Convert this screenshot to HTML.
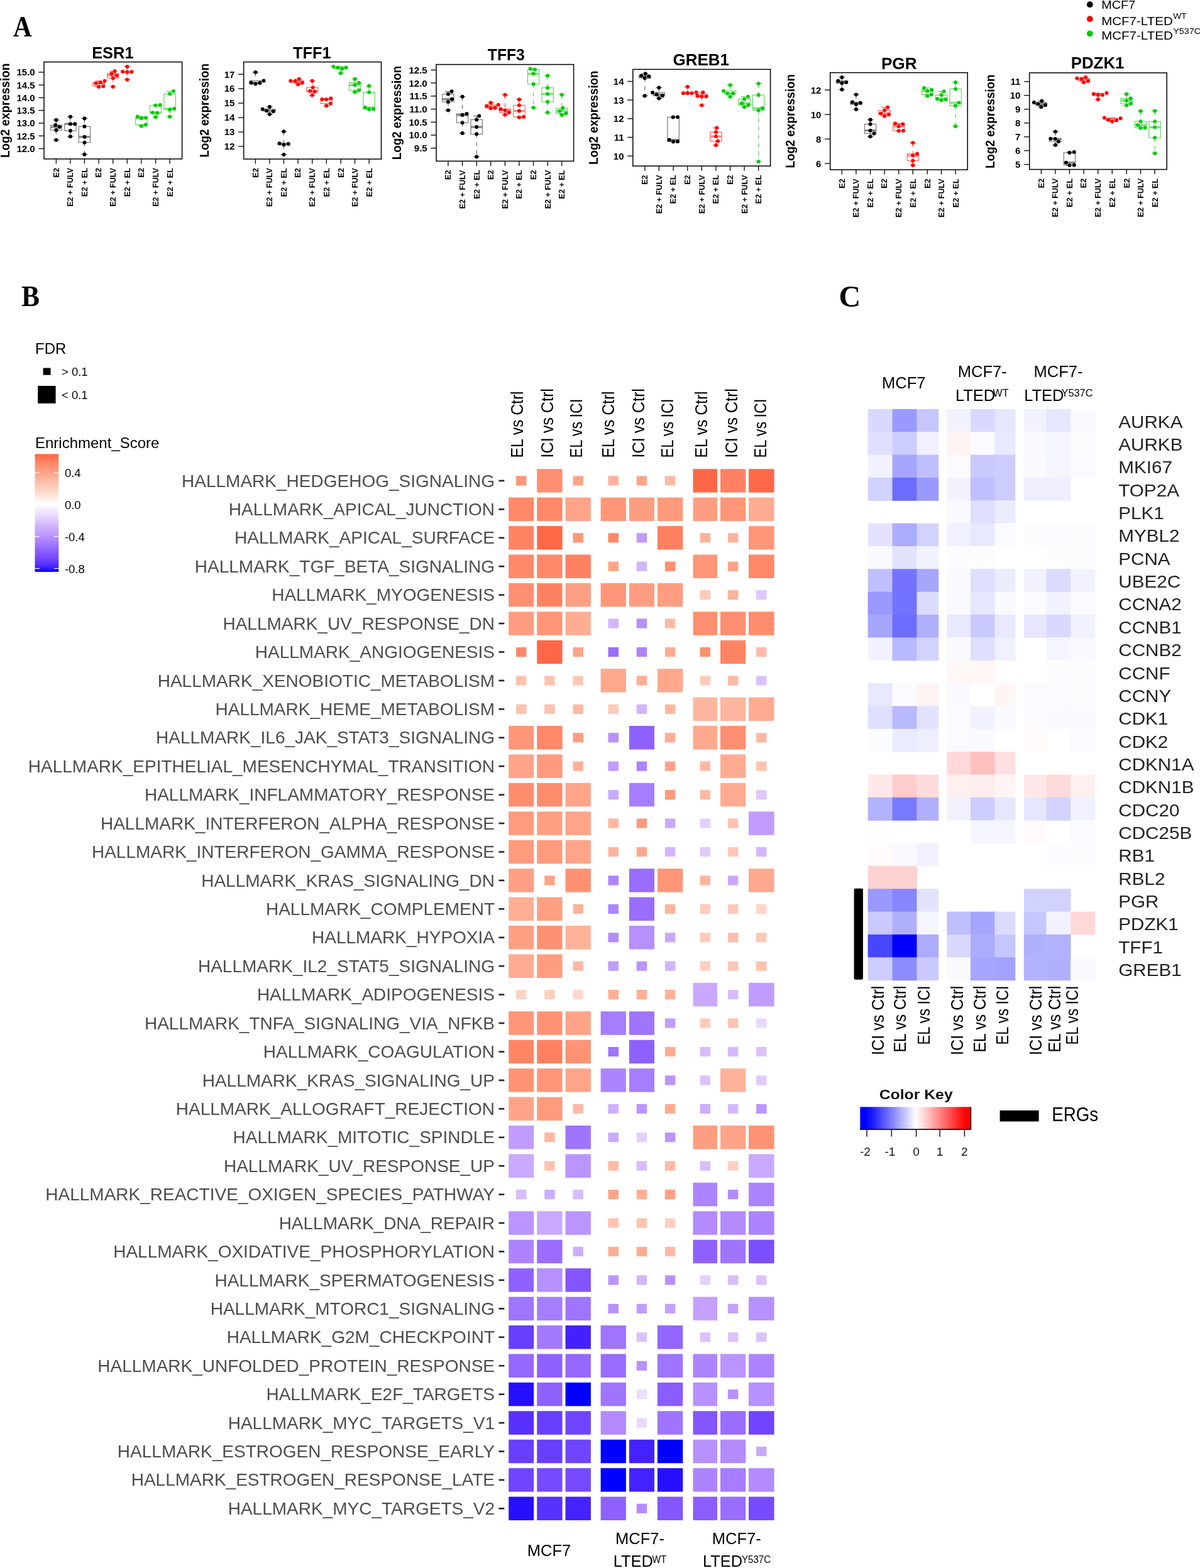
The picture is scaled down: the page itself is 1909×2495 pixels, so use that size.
<!DOCTYPE html>
<html><head><meta charset="utf-8"><title>Figure</title>
<style>html,body{margin:0;padding:0;background:#fff;}svg{display:block;}</style></head>
<body>
<svg width="1909" height="2495" viewBox="0 0 1909 2495" font-family="'Liberation Sans', Arial, sans-serif">
<rect width="1909" height="2495" fill="#fff"/>
<text x="21" y="57.6" font-size="46" font-family="'Liberation Serif', 'Times New Roman', serif" font-weight="bold" textLength="29.6" lengthAdjust="spacingAndGlyphs">A</text>
<text x="34" y="487.2" font-size="46.5" font-family="'Liberation Serif', 'Times New Roman', serif" font-weight="bold" textLength="29" lengthAdjust="spacingAndGlyphs">B</text>
<text x="1334.5" y="487.6" font-size="48" font-family="'Liberation Serif', 'Times New Roman', serif" font-weight="bold">C</text>
<circle cx="1733.8" cy="7.2" r="4.9" fill="#000"/>
<circle cx="1733.8" cy="30.2" r="4.9" fill="#ff0000"/>
<circle cx="1733.8" cy="53.5" r="4.9" fill="#00cd00"/>
<text x="1752.2" y="14.3" font-size="18.5" textLength="54" lengthAdjust="spacingAndGlyphs">MCF7</text>
<text x="1752.2" y="39.8" font-size="18.5" textLength="113.5" lengthAdjust="spacingAndGlyphs">MCF7-LTED</text>
<text x="1866.2" y="29.9" font-size="12.5" textLength="21.5" lengthAdjust="spacingAndGlyphs">WT</text>
<text x="1752.2" y="62.8" font-size="18.5" textLength="113.5" lengthAdjust="spacingAndGlyphs">MCF7-LTED</text>
<text x="1866.2" y="53.5" font-size="12.5" textLength="44" lengthAdjust="spacingAndGlyphs">Y537C</text>
<text x="179.4" y="93.2" font-size="25.5" font-weight="bold" text-anchor="middle" textLength="66.5" lengthAdjust="spacingAndGlyphs">ESR1</text>
<text transform="translate(14.6 251) rotate(-90)" font-size="19.5" font-weight="bold" textLength="150.3" lengthAdjust="spacingAndGlyphs">Log2 expression</text>
<line x1="61.4" y1="236.5" x2="70" y2="236.5" stroke="#000" stroke-width="1.3"/>
<text x="55.7" y="241.9" font-size="15" font-weight="bold" text-anchor="end">12.0</text>
<line x1="61.4" y1="216.23" x2="70" y2="216.23" stroke="#000" stroke-width="1.3"/>
<text x="55.7" y="221.63" font-size="15" font-weight="bold" text-anchor="end">12.5</text>
<line x1="61.4" y1="195.97" x2="70" y2="195.97" stroke="#000" stroke-width="1.3"/>
<text x="55.7" y="201.37" font-size="15" font-weight="bold" text-anchor="end">13.0</text>
<line x1="61.4" y1="175.7" x2="70" y2="175.7" stroke="#000" stroke-width="1.3"/>
<text x="55.7" y="181.1" font-size="15" font-weight="bold" text-anchor="end">13.5</text>
<line x1="61.4" y1="155.43" x2="70" y2="155.43" stroke="#000" stroke-width="1.3"/>
<text x="55.7" y="160.83" font-size="15" font-weight="bold" text-anchor="end">14.0</text>
<line x1="61.4" y1="135.17" x2="70" y2="135.17" stroke="#000" stroke-width="1.3"/>
<text x="55.7" y="140.57" font-size="15" font-weight="bold" text-anchor="end">14.5</text>
<line x1="61.4" y1="114.9" x2="70" y2="114.9" stroke="#000" stroke-width="1.3"/>
<text x="55.7" y="120.3" font-size="15" font-weight="bold" text-anchor="end">15.0</text>
<line x1="89.38" y1="252.9" x2="89.38" y2="260.4" stroke="#000" stroke-width="1.3"/>
<text transform="translate(93.78 267.1) rotate(-90)" font-size="12.6" font-weight="bold" text-anchor="end">E2</text>
<line x1="89.38" y1="190.94" x2="89.38" y2="199.06" stroke="#6e6e6e" stroke-width="1.2" stroke-dasharray="6.5 6.5"/>
<line x1="89.38" y1="207.05" x2="89.38" y2="222.64" stroke="#6e6e6e" stroke-width="1.2" stroke-dasharray="6.5 6.5"/>
<line x1="84.18" y1="190.94" x2="94.58" y2="190.94" stroke="#6e6e6e" stroke-width="1.2"/>
<line x1="84.18" y1="222.64" x2="94.58" y2="222.64" stroke="#6e6e6e" stroke-width="1.2"/>
<rect x="80.18" y="199.06" width="18.4" height="7.99" fill="none" stroke="#6e6e6e" stroke-width="1.1"/>
<line x1="80.18" y1="202.08" x2="98.58" y2="202.08" stroke="#8a8a8a" stroke-width="3.4"/>
<circle cx="89.38" cy="190.94" r="3" fill="#000000"/>
<circle cx="88.33" cy="199.06" r="3" fill="#000000"/>
<circle cx="94.62" cy="202.08" r="3" fill="#000000"/>
<circle cx="89.38" cy="207.05" r="3" fill="#000000"/>
<circle cx="89.38" cy="222.64" r="3" fill="#000000"/>
<line x1="111.91" y1="252.9" x2="111.91" y2="260.4" stroke="#000" stroke-width="1.3"/>
<text transform="translate(116.31 267.1) rotate(-90)" font-size="12.6" font-weight="bold" text-anchor="end">E2 + FULV</text>
<line x1="111.91" y1="185.84" x2="111.91" y2="197.23" stroke="#6e6e6e" stroke-width="1.2" stroke-dasharray="6.5 6.5"/>
<line x1="111.91" y1="207.97" x2="111.91" y2="217.14" stroke="#6e6e6e" stroke-width="1.2" stroke-dasharray="6.5 6.5"/>
<line x1="106.71" y1="185.84" x2="117.11" y2="185.84" stroke="#6e6e6e" stroke-width="1.2"/>
<line x1="106.71" y1="217.14" x2="117.11" y2="217.14" stroke="#6e6e6e" stroke-width="1.2"/>
<rect x="102.71" y="197.23" width="18.4" height="10.74" fill="none" stroke="#6e6e6e" stroke-width="1.1"/>
<line x1="102.71" y1="197.23" x2="121.11" y2="197.23" stroke="#8a8a8a" stroke-width="3.4"/>
<circle cx="111.91" cy="185.84" r="3" fill="#000000"/>
<circle cx="111.91" cy="197.23" r="3" fill="#000000"/>
<circle cx="119.11" cy="197.23" r="3" fill="#000000"/>
<circle cx="111.91" cy="207.97" r="3" fill="#000000"/>
<circle cx="111.91" cy="217.14" r="3" fill="#000000"/>
<line x1="134.43" y1="252.9" x2="134.43" y2="260.4" stroke="#000" stroke-width="1.3"/>
<text transform="translate(138.83 267.1) rotate(-90)" font-size="12.6" font-weight="bold" text-anchor="end">E2 + EL</text>
<line x1="134.43" y1="188.46" x2="134.43" y2="201.29" stroke="#6e6e6e" stroke-width="1.2" stroke-dasharray="6.5 6.5"/>
<line x1="134.43" y1="226.7" x2="134.43" y2="245.69" stroke="#6e6e6e" stroke-width="1.2" stroke-dasharray="6.5 6.5"/>
<line x1="129.23" y1="188.46" x2="139.63" y2="188.46" stroke="#6e6e6e" stroke-width="1.2"/>
<line x1="129.23" y1="245.69" x2="139.63" y2="245.69" stroke="#6e6e6e" stroke-width="1.2"/>
<rect x="125.23" y="201.29" width="18.4" height="25.41" fill="none" stroke="#6e6e6e" stroke-width="1.1"/>
<line x1="125.23" y1="217.79" x2="143.63" y2="217.79" stroke="#8a8a8a" stroke-width="3.4"/>
<circle cx="134.43" cy="188.46" r="3" fill="#000000"/>
<circle cx="134.43" cy="201.29" r="3" fill="#000000"/>
<circle cx="134.43" cy="217.79" r="3" fill="#000000"/>
<circle cx="134.43" cy="226.7" r="3" fill="#000000"/>
<circle cx="134.43" cy="245.69" r="3" fill="#000000"/>
<line x1="157.09" y1="252.9" x2="157.09" y2="260.4" stroke="#000" stroke-width="1.3"/>
<text transform="translate(161.49 267.1) rotate(-90)" font-size="12.6" font-weight="bold" text-anchor="end">E2</text>
<line x1="157.09" y1="128.74" x2="157.09" y2="131.36" stroke="#ff5a5a" stroke-width="1.2" stroke-dasharray="6.5 6.5"/>
<line x1="157.09" y1="137.25" x2="157.09" y2="137.91" stroke="#ff5a5a" stroke-width="1.2" stroke-dasharray="6.5 6.5"/>
<line x1="151.89" y1="128.74" x2="162.29" y2="128.74" stroke="#ff5a5a" stroke-width="1.2"/>
<line x1="151.89" y1="137.91" x2="162.29" y2="137.91" stroke="#ff5a5a" stroke-width="1.2"/>
<rect x="147.89" y="131.36" width="18.4" height="5.89" fill="none" stroke="#ff5a5a" stroke-width="1.1"/>
<line x1="147.89" y1="132.41" x2="166.29" y2="132.41" stroke="#ff8c8c" stroke-width="3.4"/>
<circle cx="152.77" cy="132.41" r="3" fill="#ff0000"/>
<circle cx="159.84" cy="131.36" r="3" fill="#ff0000"/>
<circle cx="166.65" cy="128.74" r="3" fill="#ff0000"/>
<circle cx="157.09" cy="137.91" r="3" fill="#ff0000"/>
<circle cx="164.29" cy="137.25" r="3" fill="#ff0000"/>
<line x1="179.74" y1="252.9" x2="179.74" y2="260.4" stroke="#000" stroke-width="1.3"/>
<text transform="translate(184.14 267.1) rotate(-90)" font-size="12.6" font-weight="bold" text-anchor="end">E2 + FULV</text>
<line x1="179.74" y1="113.29" x2="179.74" y2="117.35" stroke="#ff5a5a" stroke-width="1.2" stroke-dasharray="6.5 6.5"/>
<line x1="179.74" y1="124.16" x2="179.74" y2="137.91" stroke="#ff5a5a" stroke-width="1.2" stroke-dasharray="6.5 6.5"/>
<line x1="174.54" y1="113.29" x2="184.94" y2="113.29" stroke="#ff5a5a" stroke-width="1.2"/>
<line x1="174.54" y1="137.91" x2="184.94" y2="137.91" stroke="#ff5a5a" stroke-width="1.2"/>
<rect x="170.54" y="117.35" width="18.4" height="6.81" fill="none" stroke="#ff5a5a" stroke-width="1.1"/>
<line x1="170.54" y1="119.97" x2="188.94" y2="119.97" stroke="#ff8c8c" stroke-width="3.4"/>
<circle cx="182.62" cy="113.29" r="3" fill="#ff0000"/>
<circle cx="177.39" cy="117.35" r="3" fill="#ff0000"/>
<circle cx="185.64" cy="119.97" r="3" fill="#ff0000"/>
<circle cx="179.74" cy="124.16" r="3" fill="#ff0000"/>
<circle cx="179.74" cy="137.91" r="3" fill="#ff0000"/>
<line x1="202.27" y1="252.9" x2="202.27" y2="260.4" stroke="#000" stroke-width="1.3"/>
<text transform="translate(206.67 267.1) rotate(-90)" font-size="12.6" font-weight="bold" text-anchor="end">E2 + EL</text>
<line x1="202.27" y1="105.95" x2="202.27" y2="114.07" stroke="#ff5a5a" stroke-width="1.2" stroke-dasharray="6.5 6.5"/>
<line x1="202.27" y1="114.73" x2="202.27" y2="126.64" stroke="#ff5a5a" stroke-width="1.2" stroke-dasharray="6.5 6.5"/>
<line x1="197.07" y1="105.95" x2="207.47" y2="105.95" stroke="#ff5a5a" stroke-width="1.2"/>
<line x1="197.07" y1="126.64" x2="207.47" y2="126.64" stroke="#ff5a5a" stroke-width="1.2"/>
<rect x="193.07" y="114.07" width="18.4" height="0.65" fill="none" stroke="#ff5a5a" stroke-width="1.1"/>
<line x1="193.07" y1="114.33" x2="211.47" y2="114.33" stroke="#ff8c8c" stroke-width="3.4"/>
<circle cx="202.27" cy="105.95" r="3" fill="#ff0000"/>
<circle cx="195.07" cy="114.07" r="3" fill="#ff0000"/>
<circle cx="202.27" cy="114.73" r="3" fill="#ff0000"/>
<circle cx="209.47" cy="114.33" r="3" fill="#ff0000"/>
<circle cx="202.27" cy="126.64" r="3" fill="#ff0000"/>
<line x1="224.92" y1="252.9" x2="224.92" y2="260.4" stroke="#000" stroke-width="1.3"/>
<text transform="translate(229.32 267.1) rotate(-90)" font-size="12.6" font-weight="bold" text-anchor="end">E2</text>
<line x1="224.92" y1="185.44" x2="224.92" y2="187.41" stroke="#4fd64f" stroke-width="1.2" stroke-dasharray="6.5 6.5"/>
<line x1="224.92" y1="198.54" x2="224.92" y2="200.5" stroke="#4fd64f" stroke-width="1.2" stroke-dasharray="6.5 6.5"/>
<line x1="219.72" y1="185.44" x2="230.12" y2="185.44" stroke="#4fd64f" stroke-width="1.2"/>
<line x1="219.72" y1="200.5" x2="230.12" y2="200.5" stroke="#4fd64f" stroke-width="1.2"/>
<rect x="215.72" y="187.41" width="18.4" height="11.13" fill="none" stroke="#4fd64f" stroke-width="1.1"/>
<line x1="215.72" y1="188.06" x2="234.12" y2="188.06" stroke="#84e084" stroke-width="3.4"/>
<circle cx="218.64" cy="185.44" r="3" fill="#00cd00"/>
<circle cx="224.92" cy="188.06" r="3" fill="#00cd00"/>
<circle cx="232.13" cy="187.41" r="3" fill="#00cd00"/>
<circle cx="224.92" cy="200.5" r="3" fill="#00cd00"/>
<circle cx="231.86" cy="198.54" r="3" fill="#00cd00"/>
<line x1="247.58" y1="252.9" x2="247.58" y2="260.4" stroke="#000" stroke-width="1.3"/>
<text transform="translate(251.98 267.1) rotate(-90)" font-size="12.6" font-weight="bold" text-anchor="end">E2 + FULV</text>
<line x1="247.58" y1="167.11" x2="247.58" y2="167.77" stroke="#4fd64f" stroke-width="1.2" stroke-dasharray="6.5 6.5"/>
<line x1="247.58" y1="179.81" x2="247.58" y2="186.36" stroke="#4fd64f" stroke-width="1.2" stroke-dasharray="6.5 6.5"/>
<line x1="242.38" y1="167.11" x2="252.78" y2="167.11" stroke="#4fd64f" stroke-width="1.2"/>
<line x1="242.38" y1="186.36" x2="252.78" y2="186.36" stroke="#4fd64f" stroke-width="1.2"/>
<rect x="238.38" y="167.77" width="18.4" height="12.05" fill="none" stroke="#4fd64f" stroke-width="1.1"/>
<line x1="238.38" y1="179.16" x2="256.78" y2="179.16" stroke="#84e084" stroke-width="3.4"/>
<circle cx="247.58" cy="167.77" r="3" fill="#00cd00"/>
<circle cx="254.65" cy="167.11" r="3" fill="#00cd00"/>
<circle cx="242.87" cy="179.16" r="3" fill="#00cd00"/>
<circle cx="250.2" cy="179.81" r="3" fill="#00cd00"/>
<circle cx="247.58" cy="186.36" r="3" fill="#00cd00"/>
<line x1="270.1" y1="252.9" x2="270.1" y2="260.4" stroke="#000" stroke-width="1.3"/>
<text transform="translate(274.5 267.1) rotate(-90)" font-size="12.6" font-weight="bold" text-anchor="end">E2 + EL</text>
<line x1="270.1" y1="145.11" x2="270.1" y2="149.43" stroke="#4fd64f" stroke-width="1.2" stroke-dasharray="6.5 6.5"/>
<line x1="270.1" y1="174.58" x2="270.1" y2="185.71" stroke="#4fd64f" stroke-width="1.2" stroke-dasharray="6.5 6.5"/>
<line x1="264.9" y1="145.11" x2="275.3" y2="145.11" stroke="#4fd64f" stroke-width="1.2"/>
<line x1="264.9" y1="185.71" x2="275.3" y2="185.71" stroke="#4fd64f" stroke-width="1.2"/>
<rect x="260.9" y="149.43" width="18.4" height="25.14" fill="none" stroke="#4fd64f" stroke-width="1.1"/>
<line x1="260.9" y1="173" x2="279.3" y2="173" stroke="#84e084" stroke-width="3.4"/>
<circle cx="276" cy="145.11" r="3" fill="#00cd00"/>
<circle cx="270.1" cy="149.43" r="3" fill="#00cd00"/>
<circle cx="270.1" cy="174.58" r="3" fill="#00cd00"/>
<circle cx="277.18" cy="173" r="3" fill="#00cd00"/>
<circle cx="270.1" cy="185.71" r="3" fill="#00cd00"/>
<rect x="70" y="98.6" width="219.6" height="154.3" fill="none" stroke="#000" stroke-width="1.5"/>
<text x="496.3" y="92.8" font-size="25.5" font-weight="bold" text-anchor="middle" textLength="60.4" lengthAdjust="spacingAndGlyphs">TFF1</text>
<text transform="translate(331.9 250.5) rotate(-90)" font-size="19.5" font-weight="bold" textLength="149.5" lengthAdjust="spacingAndGlyphs">Log2 expression</text>
<line x1="379.1" y1="233" x2="387.7" y2="233" stroke="#000" stroke-width="1.3"/>
<text x="373.4" y="238.4" font-size="15" font-weight="bold" text-anchor="end">12</text>
<line x1="379.1" y1="210.02" x2="387.7" y2="210.02" stroke="#000" stroke-width="1.3"/>
<text x="373.4" y="215.42" font-size="15" font-weight="bold" text-anchor="end">13</text>
<line x1="379.1" y1="187.04" x2="387.7" y2="187.04" stroke="#000" stroke-width="1.3"/>
<text x="373.4" y="192.44" font-size="15" font-weight="bold" text-anchor="end">14</text>
<line x1="379.1" y1="164.06" x2="387.7" y2="164.06" stroke="#000" stroke-width="1.3"/>
<text x="373.4" y="169.46" font-size="15" font-weight="bold" text-anchor="end">15</text>
<line x1="379.1" y1="141.08" x2="387.7" y2="141.08" stroke="#000" stroke-width="1.3"/>
<text x="373.4" y="146.48" font-size="15" font-weight="bold" text-anchor="end">16</text>
<line x1="379.1" y1="118.1" x2="387.7" y2="118.1" stroke="#000" stroke-width="1.3"/>
<text x="373.4" y="123.5" font-size="15" font-weight="bold" text-anchor="end">17</text>
<line x1="406.38" y1="253.1" x2="406.38" y2="260.6" stroke="#000" stroke-width="1.3"/>
<text transform="translate(410.78 267.3) rotate(-90)" font-size="12.6" font-weight="bold" text-anchor="end">E2</text>
<line x1="406.38" y1="115.07" x2="406.38" y2="128.43" stroke="#6e6e6e" stroke-width="1.2" stroke-dasharray="6.5 6.5"/>
<line x1="406.38" y1="132.1" x2="406.38" y2="133.41" stroke="#6e6e6e" stroke-width="1.2" stroke-dasharray="6.5 6.5"/>
<line x1="401.18" y1="115.07" x2="411.58" y2="115.07" stroke="#6e6e6e" stroke-width="1.2"/>
<line x1="401.18" y1="133.41" x2="411.58" y2="133.41" stroke="#6e6e6e" stroke-width="1.2"/>
<rect x="397.18" y="128.43" width="18.4" height="3.67" fill="none" stroke="#6e6e6e" stroke-width="1.1"/>
<line x1="397.18" y1="131.7" x2="415.58" y2="131.7" stroke="#8a8a8a" stroke-width="3.4"/>
<circle cx="406.38" cy="115.07" r="3" fill="#000000"/>
<circle cx="399.44" cy="131.7" r="3" fill="#000000"/>
<circle cx="406.38" cy="133.41" r="3" fill="#000000"/>
<circle cx="413.45" cy="132.1" r="3" fill="#000000"/>
<circle cx="419.48" cy="128.43" r="3" fill="#000000"/>
<line x1="428.91" y1="253.1" x2="428.91" y2="260.6" stroke="#000" stroke-width="1.3"/>
<text transform="translate(433.31 267.3) rotate(-90)" font-size="12.6" font-weight="bold" text-anchor="end">E2 + FULV</text>
<line x1="428.91" y1="170.07" x2="428.91" y2="173.87" stroke="#6e6e6e" stroke-width="1.2" stroke-dasharray="6.5 6.5"/>
<line x1="428.91" y1="177.15" x2="428.91" y2="181.73" stroke="#6e6e6e" stroke-width="1.2" stroke-dasharray="6.5 6.5"/>
<line x1="423.71" y1="170.07" x2="434.11" y2="170.07" stroke="#6e6e6e" stroke-width="1.2"/>
<line x1="423.71" y1="181.73" x2="434.11" y2="181.73" stroke="#6e6e6e" stroke-width="1.2"/>
<rect x="419.71" y="173.87" width="18.4" height="3.27" fill="none" stroke="#6e6e6e" stroke-width="1.1"/>
<line x1="419.71" y1="176.23" x2="438.11" y2="176.23" stroke="#8a8a8a" stroke-width="3.4"/>
<circle cx="428.91" cy="170.07" r="3" fill="#000000"/>
<circle cx="417.78" cy="173.87" r="3" fill="#000000"/>
<circle cx="424.32" cy="176.23" r="3" fill="#000000"/>
<circle cx="434.8" cy="177.15" r="3" fill="#000000"/>
<circle cx="428.91" cy="181.73" r="3" fill="#000000"/>
<line x1="451.43" y1="253.1" x2="451.43" y2="260.6" stroke="#000" stroke-width="1.3"/>
<text transform="translate(455.83 267.3) rotate(-90)" font-size="12.6" font-weight="bold" text-anchor="end">E2 + EL</text>
<line x1="451.43" y1="209.36" x2="451.43" y2="228.35" stroke="#6e6e6e" stroke-width="1.2" stroke-dasharray="6.5 6.5"/>
<line x1="451.43" y1="230.32" x2="451.43" y2="245.9" stroke="#6e6e6e" stroke-width="1.2" stroke-dasharray="6.5 6.5"/>
<line x1="446.23" y1="209.36" x2="456.63" y2="209.36" stroke="#6e6e6e" stroke-width="1.2"/>
<line x1="446.23" y1="245.9" x2="456.63" y2="245.9" stroke="#6e6e6e" stroke-width="1.2"/>
<rect x="442.23" y="228.35" width="18.4" height="1.96" fill="none" stroke="#6e6e6e" stroke-width="1.1"/>
<line x1="442.23" y1="229.01" x2="460.63" y2="229.01" stroke="#8a8a8a" stroke-width="3.4"/>
<circle cx="451.43" cy="209.36" r="3" fill="#000000"/>
<circle cx="444.62" cy="228.35" r="3" fill="#000000"/>
<circle cx="451.43" cy="230.32" r="3" fill="#000000"/>
<circle cx="458.77" cy="229.01" r="3" fill="#000000"/>
<circle cx="451.43" cy="245.9" r="3" fill="#000000"/>
<line x1="474.09" y1="253.1" x2="474.09" y2="260.6" stroke="#000" stroke-width="1.3"/>
<text transform="translate(478.49 267.3) rotate(-90)" font-size="12.6" font-weight="bold" text-anchor="end">E2</text>
<line x1="474.09" y1="125.81" x2="474.09" y2="128.82" stroke="#ff5a5a" stroke-width="1.2" stroke-dasharray="6.5 6.5"/>
<line x1="474.09" y1="131.7" x2="474.09" y2="134.32" stroke="#ff5a5a" stroke-width="1.2" stroke-dasharray="6.5 6.5"/>
<line x1="468.89" y1="125.81" x2="479.29" y2="125.81" stroke="#ff5a5a" stroke-width="1.2"/>
<line x1="468.89" y1="134.32" x2="479.29" y2="134.32" stroke="#ff5a5a" stroke-width="1.2"/>
<rect x="464.89" y="128.82" width="18.4" height="2.88" fill="none" stroke="#ff5a5a" stroke-width="1.1"/>
<line x1="464.89" y1="129.08" x2="483.29" y2="129.08" stroke="#ff8c8c" stroke-width="3.4"/>
<circle cx="462.3" cy="128.82" r="3" fill="#ff0000"/>
<circle cx="469.5" cy="129.08" r="3" fill="#ff0000"/>
<circle cx="475.79" cy="125.81" r="3" fill="#ff0000"/>
<circle cx="480.77" cy="131.7" r="3" fill="#ff0000"/>
<circle cx="474.09" cy="134.32" r="3" fill="#ff0000"/>
<line x1="496.74" y1="253.1" x2="496.74" y2="260.6" stroke="#000" stroke-width="1.3"/>
<text transform="translate(501.14 267.3) rotate(-90)" font-size="12.6" font-weight="bold" text-anchor="end">E2 + FULV</text>
<line x1="496.74" y1="128.82" x2="496.74" y2="139.17" stroke="#ff5a5a" stroke-width="1.2" stroke-dasharray="6.5 6.5"/>
<line x1="496.74" y1="145.85" x2="496.74" y2="151.61" stroke="#ff5a5a" stroke-width="1.2" stroke-dasharray="6.5 6.5"/>
<line x1="491.54" y1="128.82" x2="501.94" y2="128.82" stroke="#ff5a5a" stroke-width="1.2"/>
<line x1="491.54" y1="151.61" x2="501.94" y2="151.61" stroke="#ff5a5a" stroke-width="1.2"/>
<rect x="487.54" y="139.17" width="18.4" height="6.68" fill="none" stroke="#ff5a5a" stroke-width="1.1"/>
<line x1="487.54" y1="144.8" x2="505.94" y2="144.8" stroke="#ff8c8c" stroke-width="3.4"/>
<circle cx="496.74" cy="128.82" r="3" fill="#ff0000"/>
<circle cx="497.66" cy="139.17" r="3" fill="#ff0000"/>
<circle cx="493.34" cy="144.8" r="3" fill="#ff0000"/>
<circle cx="500.67" cy="145.85" r="3" fill="#ff0000"/>
<circle cx="496.74" cy="151.61" r="3" fill="#ff0000"/>
<line x1="519.27" y1="253.1" x2="519.27" y2="260.6" stroke="#000" stroke-width="1.3"/>
<text transform="translate(523.67 267.3) rotate(-90)" font-size="12.6" font-weight="bold" text-anchor="end">E2 + EL</text>
<line x1="519.27" y1="156.59" x2="519.27" y2="157.9" stroke="#ff5a5a" stroke-width="1.2" stroke-dasharray="6.5 6.5"/>
<line x1="519.27" y1="164.84" x2="519.27" y2="168.37" stroke="#ff5a5a" stroke-width="1.2" stroke-dasharray="6.5 6.5"/>
<line x1="514.07" y1="156.59" x2="524.47" y2="156.59" stroke="#ff5a5a" stroke-width="1.2"/>
<line x1="514.07" y1="168.37" x2="524.47" y2="168.37" stroke="#ff5a5a" stroke-width="1.2"/>
<rect x="510.07" y="157.9" width="18.4" height="6.94" fill="none" stroke="#ff5a5a" stroke-width="1.1"/>
<line x1="510.07" y1="158.16" x2="528.47" y2="158.16" stroke="#ff8c8c" stroke-width="3.4"/>
<circle cx="512.46" cy="157.9" r="3" fill="#ff0000"/>
<circle cx="519.27" cy="158.16" r="3" fill="#ff0000"/>
<circle cx="526.47" cy="156.59" r="3" fill="#ff0000"/>
<circle cx="525.82" cy="164.84" r="3" fill="#ff0000"/>
<circle cx="519.27" cy="168.37" r="3" fill="#ff0000"/>
<line x1="542.19" y1="253.1" x2="542.19" y2="260.6" stroke="#000" stroke-width="1.3"/>
<text transform="translate(546.59 267.3) rotate(-90)" font-size="12.6" font-weight="bold" text-anchor="end">E2</text>
<line x1="542.19" y1="105.91" x2="542.19" y2="107.48" stroke="#4fd64f" stroke-width="1.2" stroke-dasharray="6.5 6.5"/>
<line x1="542.19" y1="109.44" x2="542.19" y2="116.38" stroke="#4fd64f" stroke-width="1.2" stroke-dasharray="6.5 6.5"/>
<line x1="536.99" y1="105.91" x2="547.39" y2="105.91" stroke="#4fd64f" stroke-width="1.2"/>
<line x1="536.99" y1="116.38" x2="547.39" y2="116.38" stroke="#4fd64f" stroke-width="1.2"/>
<rect x="532.99" y="107.48" width="18.4" height="1.96" fill="none" stroke="#4fd64f" stroke-width="1.1"/>
<line x1="532.99" y1="107.48" x2="551.39" y2="107.48" stroke="#84e084" stroke-width="3.4"/>
<circle cx="530.4" cy="105.91" r="3" fill="#00cd00"/>
<circle cx="537.34" cy="107.48" r="3" fill="#00cd00"/>
<circle cx="544.15" cy="109.44" r="3" fill="#00cd00"/>
<circle cx="550.7" cy="107.48" r="3" fill="#00cd00"/>
<circle cx="541.92" cy="116.38" r="3" fill="#00cd00"/>
<line x1="564.58" y1="253.1" x2="564.58" y2="260.6" stroke="#000" stroke-width="1.3"/>
<text transform="translate(568.98 267.3) rotate(-90)" font-size="12.6" font-weight="bold" text-anchor="end">E2 + FULV</text>
<line x1="564.58" y1="125.81" x2="564.58" y2="131.7" stroke="#4fd64f" stroke-width="1.2" stroke-dasharray="6.5 6.5"/>
<line x1="564.58" y1="143.49" x2="564.58" y2="146.5" stroke="#4fd64f" stroke-width="1.2" stroke-dasharray="6.5 6.5"/>
<line x1="559.38" y1="125.81" x2="569.78" y2="125.81" stroke="#4fd64f" stroke-width="1.2"/>
<line x1="559.38" y1="146.5" x2="569.78" y2="146.5" stroke="#4fd64f" stroke-width="1.2"/>
<rect x="555.38" y="131.7" width="18.4" height="11.79" fill="none" stroke="#4fd64f" stroke-width="1.1"/>
<line x1="555.38" y1="135.24" x2="573.78" y2="135.24" stroke="#84e084" stroke-width="3.4"/>
<circle cx="564.58" cy="125.81" r="3" fill="#00cd00"/>
<circle cx="571" cy="131.7" r="3" fill="#00cd00"/>
<circle cx="564.58" cy="135.24" r="3" fill="#00cd00"/>
<circle cx="571" cy="143.49" r="3" fill="#00cd00"/>
<circle cx="564.58" cy="146.5" r="3" fill="#00cd00"/>
<line x1="587.1" y1="253.1" x2="587.1" y2="260.6" stroke="#000" stroke-width="1.3"/>
<text transform="translate(591.5 267.3) rotate(-90)" font-size="12.6" font-weight="bold" text-anchor="end">E2 + EL</text>
<line x1="587.1" y1="136.68" x2="587.1" y2="146.76" stroke="#4fd64f" stroke-width="1.2" stroke-dasharray="6.5 6.5"/>
<line x1="587.1" y1="173.48" x2="587.1" y2="174" stroke="#4fd64f" stroke-width="1.2" stroke-dasharray="6.5 6.5"/>
<line x1="581.9" y1="136.68" x2="592.3" y2="136.68" stroke="#4fd64f" stroke-width="1.2"/>
<line x1="581.9" y1="174" x2="592.3" y2="174" stroke="#4fd64f" stroke-width="1.2"/>
<rect x="577.9" y="146.76" width="18.4" height="26.72" fill="none" stroke="#4fd64f" stroke-width="1.1"/>
<line x1="577.9" y1="171.12" x2="596.3" y2="171.12" stroke="#84e084" stroke-width="3.4"/>
<circle cx="587.1" cy="136.68" r="3" fill="#00cd00"/>
<circle cx="587.1" cy="146.76" r="3" fill="#00cd00"/>
<circle cx="580.82" cy="171.12" r="3" fill="#00cd00"/>
<circle cx="587.1" cy="174" r="3" fill="#00cd00"/>
<circle cx="594.31" cy="173.48" r="3" fill="#00cd00"/>
<rect x="387.7" y="98.6" width="218.8" height="154.5" fill="none" stroke="#000" stroke-width="1.5"/>
<text x="805.3" y="96.2" font-size="25.5" font-weight="bold" text-anchor="middle" textLength="59" lengthAdjust="spacingAndGlyphs">TFF3</text>
<text transform="translate(638.2 254.3) rotate(-90)" font-size="19.5" font-weight="bold" textLength="149.5" lengthAdjust="spacingAndGlyphs">Log2 expression</text>
<line x1="685.4" y1="235.8" x2="694" y2="235.8" stroke="#000" stroke-width="1.3"/>
<text x="679.7" y="241.2" font-size="15" font-weight="bold" text-anchor="end">9.5</text>
<line x1="685.4" y1="215.07" x2="694" y2="215.07" stroke="#000" stroke-width="1.3"/>
<text x="679.7" y="220.47" font-size="15" font-weight="bold" text-anchor="end">10.0</text>
<line x1="685.4" y1="194.33" x2="694" y2="194.33" stroke="#000" stroke-width="1.3"/>
<text x="679.7" y="199.73" font-size="15" font-weight="bold" text-anchor="end">10.5</text>
<line x1="685.4" y1="173.6" x2="694" y2="173.6" stroke="#000" stroke-width="1.3"/>
<text x="679.7" y="179" font-size="15" font-weight="bold" text-anchor="end">11.0</text>
<line x1="685.4" y1="152.87" x2="694" y2="152.87" stroke="#000" stroke-width="1.3"/>
<text x="679.7" y="158.27" font-size="15" font-weight="bold" text-anchor="end">11.5</text>
<line x1="685.4" y1="132.13" x2="694" y2="132.13" stroke="#000" stroke-width="1.3"/>
<text x="679.7" y="137.53" font-size="15" font-weight="bold" text-anchor="end">12.0</text>
<line x1="685.4" y1="111.4" x2="694" y2="111.4" stroke="#000" stroke-width="1.3"/>
<text x="679.7" y="116.8" font-size="15" font-weight="bold" text-anchor="end">12.5</text>
<line x1="712.91" y1="256.4" x2="712.91" y2="263.9" stroke="#000" stroke-width="1.3"/>
<text transform="translate(717.31 270.6) rotate(-90)" font-size="12.6" font-weight="bold" text-anchor="end">E2</text>
<line x1="712.91" y1="145.53" x2="712.91" y2="149.85" stroke="#6e6e6e" stroke-width="1.2" stroke-dasharray="6.5 6.5"/>
<line x1="712.91" y1="161.9" x2="712.91" y2="175.38" stroke="#6e6e6e" stroke-width="1.2" stroke-dasharray="6.5 6.5"/>
<line x1="707.71" y1="145.53" x2="718.11" y2="145.53" stroke="#6e6e6e" stroke-width="1.2"/>
<line x1="707.71" y1="175.38" x2="718.11" y2="175.38" stroke="#6e6e6e" stroke-width="1.2"/>
<rect x="703.71" y="149.85" width="18.4" height="12.05" fill="none" stroke="#6e6e6e" stroke-width="1.1"/>
<line x1="703.71" y1="157.71" x2="722.11" y2="157.71" stroke="#8a8a8a" stroke-width="3.4"/>
<circle cx="718.54" cy="145.53" r="3" fill="#000000"/>
<circle cx="712.91" cy="149.85" r="3" fill="#000000"/>
<circle cx="718.93" cy="157.71" r="3" fill="#000000"/>
<circle cx="712.91" cy="161.9" r="3" fill="#000000"/>
<circle cx="712.91" cy="175.38" r="3" fill="#000000"/>
<line x1="735.56" y1="256.4" x2="735.56" y2="263.9" stroke="#000" stroke-width="1.3"/>
<text transform="translate(739.96 270.6) rotate(-90)" font-size="12.6" font-weight="bold" text-anchor="end">E2 + FULV</text>
<line x1="735.56" y1="153.78" x2="735.56" y2="180.88" stroke="#6e6e6e" stroke-width="1.2" stroke-dasharray="6.5 6.5"/>
<line x1="735.56" y1="195.29" x2="735.56" y2="212.05" stroke="#6e6e6e" stroke-width="1.2" stroke-dasharray="6.5 6.5"/>
<line x1="730.36" y1="153.78" x2="740.76" y2="153.78" stroke="#6e6e6e" stroke-width="1.2"/>
<line x1="730.36" y1="212.05" x2="740.76" y2="212.05" stroke="#6e6e6e" stroke-width="1.2"/>
<rect x="726.36" y="180.88" width="18.4" height="14.41" fill="none" stroke="#6e6e6e" stroke-width="1.1"/>
<line x1="726.36" y1="183.11" x2="744.76" y2="183.11" stroke="#8a8a8a" stroke-width="3.4"/>
<circle cx="735.56" cy="153.78" r="3" fill="#000000"/>
<circle cx="742.5" cy="180.88" r="3" fill="#000000"/>
<circle cx="735.56" cy="183.11" r="3" fill="#000000"/>
<circle cx="735.56" cy="195.29" r="3" fill="#000000"/>
<circle cx="735.56" cy="212.05" r="3" fill="#000000"/>
<line x1="758.22" y1="256.4" x2="758.22" y2="263.9" stroke="#000" stroke-width="1.3"/>
<text transform="translate(762.62 270.6) rotate(-90)" font-size="12.6" font-weight="bold" text-anchor="end">E2 + EL</text>
<line x1="758.22" y1="184.55" x2="758.22" y2="190.44" stroke="#6e6e6e" stroke-width="1.2" stroke-dasharray="6.5 6.5"/>
<line x1="758.22" y1="213.36" x2="758.22" y2="249.38" stroke="#6e6e6e" stroke-width="1.2" stroke-dasharray="6.5 6.5"/>
<line x1="753.02" y1="184.55" x2="763.42" y2="184.55" stroke="#6e6e6e" stroke-width="1.2"/>
<line x1="753.02" y1="249.38" x2="763.42" y2="249.38" stroke="#6e6e6e" stroke-width="1.2"/>
<rect x="749.02" y="190.44" width="18.4" height="22.92" fill="none" stroke="#6e6e6e" stroke-width="1.1"/>
<line x1="749.02" y1="202.1" x2="767.42" y2="202.1" stroke="#8a8a8a" stroke-width="3.4"/>
<circle cx="762.15" cy="184.55" r="3" fill="#000000"/>
<circle cx="758.22" cy="190.44" r="3" fill="#000000"/>
<circle cx="758.22" cy="202.1" r="3" fill="#000000"/>
<circle cx="758.22" cy="213.36" r="3" fill="#000000"/>
<circle cx="758.22" cy="249.38" r="3" fill="#000000"/>
<line x1="780.74" y1="256.4" x2="780.74" y2="263.9" stroke="#000" stroke-width="1.3"/>
<text transform="translate(785.14 270.6) rotate(-90)" font-size="12.6" font-weight="bold" text-anchor="end">E2</text>
<line x1="780.74" y1="163.6" x2="780.74" y2="166.87" stroke="#ff5a5a" stroke-width="1.2" stroke-dasharray="6.5 6.5"/>
<line x1="780.74" y1="171.72" x2="780.74" y2="172.37" stroke="#ff5a5a" stroke-width="1.2" stroke-dasharray="6.5 6.5"/>
<line x1="775.54" y1="163.6" x2="785.94" y2="163.6" stroke="#ff5a5a" stroke-width="1.2"/>
<line x1="775.54" y1="172.37" x2="785.94" y2="172.37" stroke="#ff5a5a" stroke-width="1.2"/>
<rect x="771.54" y="166.87" width="18.4" height="4.85" fill="none" stroke="#ff5a5a" stroke-width="1.1"/>
<line x1="771.54" y1="168.84" x2="789.94" y2="168.84" stroke="#ff8c8c" stroke-width="3.4"/>
<circle cx="780.74" cy="163.6" r="3" fill="#ff0000"/>
<circle cx="792.79" cy="166.87" r="3" fill="#ff0000"/>
<circle cx="774.46" cy="168.84" r="3" fill="#ff0000"/>
<circle cx="780.74" cy="172.37" r="3" fill="#ff0000"/>
<circle cx="787.55" cy="171.72" r="3" fill="#ff0000"/>
<line x1="803.4" y1="256.4" x2="803.4" y2="263.9" stroke="#000" stroke-width="1.3"/>
<text transform="translate(807.8 270.6) rotate(-90)" font-size="12.6" font-weight="bold" text-anchor="end">E2 + FULV</text>
<line x1="803.4" y1="151.03" x2="803.4" y2="173.42" stroke="#ff5a5a" stroke-width="1.2" stroke-dasharray="6.5 6.5"/>
<line x1="803.4" y1="179.31" x2="803.4" y2="182.85" stroke="#ff5a5a" stroke-width="1.2" stroke-dasharray="6.5 6.5"/>
<line x1="798.2" y1="151.03" x2="808.6" y2="151.03" stroke="#ff5a5a" stroke-width="1.2"/>
<line x1="798.2" y1="182.85" x2="808.6" y2="182.85" stroke="#ff5a5a" stroke-width="1.2"/>
<rect x="794.2" y="173.42" width="18.4" height="5.89" fill="none" stroke="#ff5a5a" stroke-width="1.1"/>
<line x1="794.2" y1="175.38" x2="812.6" y2="175.38" stroke="#ff8c8c" stroke-width="3.4"/>
<circle cx="803.4" cy="151.03" r="3" fill="#ff0000"/>
<circle cx="796.46" cy="173.42" r="3" fill="#ff0000"/>
<circle cx="803.4" cy="175.38" r="3" fill="#ff0000"/>
<circle cx="809.55" cy="179.31" r="3" fill="#ff0000"/>
<circle cx="803.4" cy="182.85" r="3" fill="#ff0000"/>
<line x1="825.92" y1="256.4" x2="825.92" y2="263.9" stroke="#000" stroke-width="1.3"/>
<text transform="translate(830.32 270.6) rotate(-90)" font-size="12.6" font-weight="bold" text-anchor="end">E2 + EL</text>
<line x1="825.92" y1="158.36" x2="825.92" y2="167.53" stroke="#ff5a5a" stroke-width="1.2" stroke-dasharray="6.5 6.5"/>
<line x1="825.92" y1="186.12" x2="825.92" y2="186.78" stroke="#ff5a5a" stroke-width="1.2" stroke-dasharray="6.5 6.5"/>
<line x1="820.72" y1="158.36" x2="831.12" y2="158.36" stroke="#ff5a5a" stroke-width="1.2"/>
<line x1="820.72" y1="186.78" x2="831.12" y2="186.78" stroke="#ff5a5a" stroke-width="1.2"/>
<rect x="816.72" y="167.53" width="18.4" height="18.6" fill="none" stroke="#ff5a5a" stroke-width="1.1"/>
<line x1="816.72" y1="176.56" x2="835.12" y2="176.56" stroke="#ff8c8c" stroke-width="3.4"/>
<circle cx="825.92" cy="158.36" r="3" fill="#ff0000"/>
<circle cx="825.92" cy="167.53" r="3" fill="#ff0000"/>
<circle cx="825.92" cy="176.56" r="3" fill="#ff0000"/>
<circle cx="825.92" cy="186.78" r="3" fill="#ff0000"/>
<circle cx="833.13" cy="186.12" r="3" fill="#ff0000"/>
<line x1="848.58" y1="256.4" x2="848.58" y2="263.9" stroke="#000" stroke-width="1.3"/>
<text transform="translate(852.98 270.6) rotate(-90)" font-size="12.6" font-weight="bold" text-anchor="end">E2</text>
<line x1="848.58" y1="109.51" x2="848.58" y2="110.82" stroke="#4fd64f" stroke-width="1.2" stroke-dasharray="6.5 6.5"/>
<line x1="848.58" y1="133.74" x2="848.58" y2="171.32" stroke="#4fd64f" stroke-width="1.2" stroke-dasharray="6.5 6.5"/>
<line x1="843.38" y1="109.51" x2="853.78" y2="109.51" stroke="#4fd64f" stroke-width="1.2"/>
<line x1="843.38" y1="171.32" x2="853.78" y2="171.32" stroke="#4fd64f" stroke-width="1.2"/>
<rect x="839.38" y="110.82" width="18.4" height="22.92" fill="none" stroke="#4fd64f" stroke-width="1.1"/>
<line x1="839.38" y1="117.37" x2="857.78" y2="117.37" stroke="#84e084" stroke-width="3.4"/>
<circle cx="843.6" cy="109.51" r="3" fill="#00cd00"/>
<circle cx="850.81" cy="110.82" r="3" fill="#00cd00"/>
<circle cx="848.58" cy="117.37" r="3" fill="#00cd00"/>
<circle cx="848.58" cy="133.74" r="3" fill="#00cd00"/>
<circle cx="848.58" cy="171.32" r="3" fill="#00cd00"/>
<line x1="871.1" y1="256.4" x2="871.1" y2="263.9" stroke="#000" stroke-width="1.3"/>
<text transform="translate(875.5 270.6) rotate(-90)" font-size="12.6" font-weight="bold" text-anchor="end">E2 + FULV</text>
<line x1="871.1" y1="120.38" x2="871.1" y2="139.63" stroke="#4fd64f" stroke-width="1.2" stroke-dasharray="6.5 6.5"/>
<line x1="871.1" y1="161.9" x2="871.1" y2="178.92" stroke="#4fd64f" stroke-width="1.2" stroke-dasharray="6.5 6.5"/>
<line x1="865.9" y1="120.38" x2="876.3" y2="120.38" stroke="#4fd64f" stroke-width="1.2"/>
<line x1="865.9" y1="178.92" x2="876.3" y2="178.92" stroke="#4fd64f" stroke-width="1.2"/>
<rect x="861.9" y="139.63" width="18.4" height="22.26" fill="none" stroke="#4fd64f" stroke-width="1.1"/>
<line x1="861.9" y1="149.45" x2="880.3" y2="149.45" stroke="#84e084" stroke-width="3.4"/>
<circle cx="871.1" cy="120.38" r="3" fill="#00cd00"/>
<circle cx="871.1" cy="139.63" r="3" fill="#00cd00"/>
<circle cx="871.1" cy="149.45" r="3" fill="#00cd00"/>
<circle cx="871.1" cy="161.9" r="3" fill="#00cd00"/>
<circle cx="871.1" cy="178.92" r="3" fill="#00cd00"/>
<line x1="893.76" y1="256.4" x2="893.76" y2="263.9" stroke="#000" stroke-width="1.3"/>
<text transform="translate(898.16 270.6) rotate(-90)" font-size="12.6" font-weight="bold" text-anchor="end">E2 + EL</text>
<line x1="893.76" y1="150.76" x2="893.76" y2="172.11" stroke="#4fd64f" stroke-width="1.2" stroke-dasharray="6.5 6.5"/>
<line x1="893.76" y1="180.62" x2="893.76" y2="183.11" stroke="#4fd64f" stroke-width="1.2" stroke-dasharray="6.5 6.5"/>
<line x1="888.56" y1="150.76" x2="898.96" y2="150.76" stroke="#4fd64f" stroke-width="1.2"/>
<line x1="888.56" y1="183.11" x2="898.96" y2="183.11" stroke="#4fd64f" stroke-width="1.2"/>
<rect x="884.56" y="172.11" width="18.4" height="8.51" fill="none" stroke="#4fd64f" stroke-width="1.1"/>
<line x1="884.56" y1="176.69" x2="902.96" y2="176.69" stroke="#84e084" stroke-width="3.4"/>
<circle cx="893.76" cy="150.76" r="3" fill="#00cd00"/>
<circle cx="895.33" cy="172.11" r="3" fill="#00cd00"/>
<circle cx="890.49" cy="176.69" r="3" fill="#00cd00"/>
<circle cx="900.31" cy="180.62" r="3" fill="#00cd00"/>
<circle cx="893.76" cy="183.11" r="3" fill="#00cd00"/>
<rect x="694" y="102.6" width="218.6" height="153.8" fill="none" stroke="#000" stroke-width="1.5"/>
<text x="1115.3" y="104.2" font-size="25.5" font-weight="bold" text-anchor="middle" textLength="89.4" lengthAdjust="spacingAndGlyphs">GREB1</text>
<text transform="translate(951.1 261.9) rotate(-90)" font-size="19.5" font-weight="bold" textLength="149.5" lengthAdjust="spacingAndGlyphs">Log2 expression</text>
<line x1="998.2" y1="248.2" x2="1006.8" y2="248.2" stroke="#000" stroke-width="1.3"/>
<text x="992.5" y="253.6" font-size="15" font-weight="bold" text-anchor="end">10</text>
<line x1="998.2" y1="218.52" x2="1006.8" y2="218.52" stroke="#000" stroke-width="1.3"/>
<text x="992.5" y="223.92" font-size="15" font-weight="bold" text-anchor="end">11</text>
<line x1="998.2" y1="188.85" x2="1006.8" y2="188.85" stroke="#000" stroke-width="1.3"/>
<text x="992.5" y="194.25" font-size="15" font-weight="bold" text-anchor="end">12</text>
<line x1="998.2" y1="159.18" x2="1006.8" y2="159.18" stroke="#000" stroke-width="1.3"/>
<text x="992.5" y="164.58" font-size="15" font-weight="bold" text-anchor="end">13</text>
<line x1="998.2" y1="129.5" x2="1006.8" y2="129.5" stroke="#000" stroke-width="1.3"/>
<text x="992.5" y="134.9" font-size="15" font-weight="bold" text-anchor="end">14</text>
<line x1="1025.91" y1="264.2" x2="1025.91" y2="271.7" stroke="#000" stroke-width="1.3"/>
<text transform="translate(1030.31 278.4) rotate(-90)" font-size="12.6" font-weight="bold" text-anchor="end">E2</text>
<line x1="1025.91" y1="117.17" x2="1025.91" y2="120.44" stroke="#6e6e6e" stroke-width="1.2" stroke-dasharray="6.5 6.5"/>
<line x1="1025.91" y1="124.37" x2="1025.91" y2="152.53" stroke="#6e6e6e" stroke-width="1.2" stroke-dasharray="6.5 6.5"/>
<line x1="1020.71" y1="117.17" x2="1031.11" y2="117.17" stroke="#6e6e6e" stroke-width="1.2"/>
<line x1="1020.71" y1="152.53" x2="1031.11" y2="152.53" stroke="#6e6e6e" stroke-width="1.2"/>
<rect x="1016.71" y="120.44" width="18.4" height="3.93" fill="none" stroke="#6e6e6e" stroke-width="1.1"/>
<line x1="1016.71" y1="121.49" x2="1035.11" y2="121.49" stroke="#8a8a8a" stroke-width="3.4"/>
<circle cx="1026.69" cy="117.17" r="3" fill="#000000"/>
<circle cx="1020.14" cy="120.44" r="3" fill="#000000"/>
<circle cx="1032.19" cy="121.49" r="3" fill="#000000"/>
<circle cx="1025.64" cy="124.37" r="3" fill="#000000"/>
<circle cx="1025.64" cy="152.53" r="3" fill="#000000"/>
<line x1="1048.3" y1="264.2" x2="1048.3" y2="271.7" stroke="#000" stroke-width="1.3"/>
<text transform="translate(1052.7 278.4) rotate(-90)" font-size="12.6" font-weight="bold" text-anchor="end">E2 + FULV</text>
<line x1="1048.3" y1="139.43" x2="1048.3" y2="147.29" stroke="#6e6e6e" stroke-width="1.2" stroke-dasharray="6.5 6.5"/>
<line x1="1048.3" y1="152.26" x2="1048.3" y2="156.45" stroke="#6e6e6e" stroke-width="1.2" stroke-dasharray="6.5 6.5"/>
<line x1="1043.1" y1="139.43" x2="1053.5" y2="139.43" stroke="#6e6e6e" stroke-width="1.2"/>
<line x1="1043.1" y1="156.45" x2="1053.5" y2="156.45" stroke="#6e6e6e" stroke-width="1.2"/>
<rect x="1039.1" y="147.29" width="18.4" height="4.98" fill="none" stroke="#6e6e6e" stroke-width="1.1"/>
<line x1="1039.1" y1="150.56" x2="1057.5" y2="150.56" stroke="#8a8a8a" stroke-width="3.4"/>
<circle cx="1048.3" cy="139.43" r="3" fill="#000000"/>
<circle cx="1038.08" cy="147.29" r="3" fill="#000000"/>
<circle cx="1044.63" cy="150.56" r="3" fill="#000000"/>
<circle cx="1053.8" cy="152.26" r="3" fill="#000000"/>
<circle cx="1048.3" cy="156.45" r="3" fill="#000000"/>
<line x1="1071.09" y1="264.2" x2="1071.09" y2="271.7" stroke="#000" stroke-width="1.3"/>
<text transform="translate(1075.49 278.4) rotate(-90)" font-size="12.6" font-weight="bold" text-anchor="end">E2 + EL</text>
<line x1="1065.89" y1="186.31" x2="1076.29" y2="186.31" stroke="#6e6e6e" stroke-width="1.2"/>
<line x1="1065.89" y1="225.47" x2="1076.29" y2="225.47" stroke="#6e6e6e" stroke-width="1.2"/>
<rect x="1061.89" y="186.58" width="18.4" height="38.63" fill="none" stroke="#6e6e6e" stroke-width="1.1"/>
<line x1="1061.89" y1="222.59" x2="1080.29" y2="222.59" stroke="#8a8a8a" stroke-width="3.4"/>
<circle cx="1070.82" cy="186.58" r="3" fill="#000000"/>
<circle cx="1078.03" cy="186.31" r="3" fill="#000000"/>
<circle cx="1064.67" cy="222.59" r="3" fill="#000000"/>
<circle cx="1071.09" cy="225.47" r="3" fill="#000000"/>
<circle cx="1078.03" cy="225.21" r="3" fill="#000000"/>
<line x1="1093.74" y1="264.2" x2="1093.74" y2="271.7" stroke="#000" stroke-width="1.3"/>
<text transform="translate(1098.14 278.4) rotate(-90)" font-size="12.6" font-weight="bold" text-anchor="end">E2</text>
<line x1="1093.74" y1="138.12" x2="1093.74" y2="147.94" stroke="#ff5a5a" stroke-width="1.2" stroke-dasharray="6.5 6.5"/>
<line x1="1088.54" y1="138.12" x2="1098.94" y2="138.12" stroke="#ff5a5a" stroke-width="1.2"/>
<line x1="1088.54" y1="148.34" x2="1098.94" y2="148.34" stroke="#ff5a5a" stroke-width="1.2"/>
<rect x="1084.54" y="147.94" width="18.4" height="0.6" fill="none" stroke="#ff5a5a" stroke-width="1.1"/>
<line x1="1084.54" y1="148.34" x2="1102.94" y2="148.34" stroke="#ff8c8c" stroke-width="3.4"/>
<circle cx="1093.74" cy="138.12" r="3" fill="#ff0000"/>
<circle cx="1086.93" cy="148.34" r="3" fill="#ff0000"/>
<circle cx="1093.74" cy="148.34" r="3" fill="#ff0000"/>
<circle cx="1100.55" cy="148.34" r="3" fill="#ff0000"/>
<circle cx="1093.74" cy="147.94" r="3" fill="#ff0000"/>
<line x1="1116.4" y1="264.2" x2="1116.4" y2="271.7" stroke="#000" stroke-width="1.3"/>
<text transform="translate(1120.8 278.4) rotate(-90)" font-size="12.6" font-weight="bold" text-anchor="end">E2 + FULV</text>
<line x1="1116.4" y1="146.89" x2="1116.4" y2="149.91" stroke="#ff5a5a" stroke-width="1.2" stroke-dasharray="6.5 6.5"/>
<line x1="1116.4" y1="153.57" x2="1116.4" y2="167.59" stroke="#ff5a5a" stroke-width="1.2" stroke-dasharray="6.5 6.5"/>
<line x1="1111.2" y1="146.89" x2="1121.6" y2="146.89" stroke="#ff5a5a" stroke-width="1.2"/>
<line x1="1111.2" y1="167.59" x2="1121.6" y2="167.59" stroke="#ff5a5a" stroke-width="1.2"/>
<rect x="1107.2" y="149.91" width="18.4" height="3.67" fill="none" stroke="#ff5a5a" stroke-width="1.1"/>
<line x1="1107.2" y1="153.18" x2="1125.6" y2="153.18" stroke="#ff8c8c" stroke-width="3.4"/>
<circle cx="1107.49" cy="146.89" r="3" fill="#ff0000"/>
<circle cx="1118.36" cy="147.03" r="3" fill="#ff0000"/>
<circle cx="1109.46" cy="152.79" r="3" fill="#ff0000"/>
<circle cx="1116.4" cy="153.57" r="3" fill="#ff0000"/>
<circle cx="1123.47" cy="153.57" r="3" fill="#ff0000"/>
<circle cx="1116.4" cy="167.59" r="3" fill="#ff0000"/>
<line x1="1138.92" y1="264.2" x2="1138.92" y2="271.7" stroke="#000" stroke-width="1.3"/>
<text transform="translate(1143.32 278.4) rotate(-90)" font-size="12.6" font-weight="bold" text-anchor="end">E2 + EL</text>
<line x1="1138.92" y1="203.6" x2="1138.92" y2="210.15" stroke="#ff5a5a" stroke-width="1.2" stroke-dasharray="6.5 6.5"/>
<line x1="1138.92" y1="224.55" x2="1138.92" y2="231.1" stroke="#ff5a5a" stroke-width="1.2" stroke-dasharray="6.5 6.5"/>
<line x1="1133.72" y1="203.6" x2="1144.12" y2="203.6" stroke="#ff5a5a" stroke-width="1.2"/>
<line x1="1133.72" y1="231.1" x2="1144.12" y2="231.1" stroke="#ff5a5a" stroke-width="1.2"/>
<rect x="1129.72" y="210.15" width="18.4" height="14.41" fill="none" stroke="#ff5a5a" stroke-width="1.1"/>
<line x1="1129.72" y1="217.09" x2="1148.12" y2="217.09" stroke="#ff8c8c" stroke-width="3.4"/>
<circle cx="1140.23" cy="203.6" r="3" fill="#ff0000"/>
<circle cx="1138.92" cy="210.15" r="3" fill="#ff0000"/>
<circle cx="1138.92" cy="217.09" r="3" fill="#ff0000"/>
<circle cx="1141.94" cy="224.55" r="3" fill="#ff0000"/>
<circle cx="1138.92" cy="231.1" r="3" fill="#ff0000"/>
<line x1="1161.58" y1="264.2" x2="1161.58" y2="271.7" stroke="#000" stroke-width="1.3"/>
<text transform="translate(1165.98 278.4) rotate(-90)" font-size="12.6" font-weight="bold" text-anchor="end">E2</text>
<line x1="1161.58" y1="135.24" x2="1161.58" y2="144.67" stroke="#4fd64f" stroke-width="1.2" stroke-dasharray="6.5 6.5"/>
<line x1="1161.58" y1="148.86" x2="1161.58" y2="154.1" stroke="#4fd64f" stroke-width="1.2" stroke-dasharray="6.5 6.5"/>
<line x1="1156.38" y1="135.24" x2="1166.78" y2="135.24" stroke="#4fd64f" stroke-width="1.2"/>
<line x1="1156.38" y1="154.1" x2="1166.78" y2="154.1" stroke="#4fd64f" stroke-width="1.2"/>
<rect x="1152.38" y="144.67" width="18.4" height="4.19" fill="none" stroke="#4fd64f" stroke-width="1.1"/>
<line x1="1152.38" y1="148.86" x2="1170.78" y2="148.86" stroke="#84e084" stroke-width="3.4"/>
<circle cx="1161.58" cy="135.24" r="3" fill="#00cd00"/>
<circle cx="1151.1" cy="144.67" r="3" fill="#00cd00"/>
<circle cx="1157.26" cy="148.86" r="3" fill="#00cd00"/>
<circle cx="1166.03" cy="148.86" r="3" fill="#00cd00"/>
<circle cx="1161.58" cy="154.1" r="3" fill="#00cd00"/>
<line x1="1184.1" y1="264.2" x2="1184.1" y2="271.7" stroke="#000" stroke-width="1.3"/>
<text transform="translate(1188.5 278.4) rotate(-90)" font-size="12.6" font-weight="bold" text-anchor="end">E2 + FULV</text>
<line x1="1184.1" y1="153.84" x2="1184.1" y2="157.76" stroke="#4fd64f" stroke-width="1.2" stroke-dasharray="6.5 6.5"/>
<line x1="1184.1" y1="167.19" x2="1184.1" y2="170.21" stroke="#4fd64f" stroke-width="1.2" stroke-dasharray="6.5 6.5"/>
<line x1="1178.9" y1="153.84" x2="1189.3" y2="153.84" stroke="#4fd64f" stroke-width="1.2"/>
<line x1="1178.9" y1="170.21" x2="1189.3" y2="170.21" stroke="#4fd64f" stroke-width="1.2"/>
<rect x="1174.9" y="157.76" width="18.4" height="9.43" fill="none" stroke="#4fd64f" stroke-width="1.1"/>
<line x1="1174.9" y1="164.31" x2="1193.3" y2="164.31" stroke="#84e084" stroke-width="3.4"/>
<circle cx="1190" cy="153.84" r="3" fill="#00cd00"/>
<circle cx="1184.1" cy="157.76" r="3" fill="#00cd00"/>
<circle cx="1180.17" cy="164.31" r="3" fill="#00cd00"/>
<circle cx="1190.39" cy="167.19" r="3" fill="#00cd00"/>
<circle cx="1184.1" cy="170.21" r="3" fill="#00cd00"/>
<line x1="1206.63" y1="264.2" x2="1206.63" y2="271.7" stroke="#000" stroke-width="1.3"/>
<text transform="translate(1211.03 278.4) rotate(-90)" font-size="12.6" font-weight="bold" text-anchor="end">E2 + EL</text>
<line x1="1206.63" y1="132.88" x2="1206.63" y2="151.22" stroke="#4fd64f" stroke-width="1.2" stroke-dasharray="6.5 6.5"/>
<line x1="1206.63" y1="175.44" x2="1206.63" y2="257.03" stroke="#4fd64f" stroke-width="1.2" stroke-dasharray="6.5 6.5"/>
<line x1="1201.43" y1="132.88" x2="1211.83" y2="132.88" stroke="#4fd64f" stroke-width="1.2"/>
<line x1="1201.43" y1="257.03" x2="1211.83" y2="257.03" stroke="#4fd64f" stroke-width="1.2"/>
<rect x="1197.43" y="151.22" width="18.4" height="24.23" fill="none" stroke="#4fd64f" stroke-width="1.1"/>
<line x1="1197.43" y1="172.17" x2="1215.83" y2="172.17" stroke="#84e084" stroke-width="3.4"/>
<circle cx="1206.63" cy="132.88" r="3" fill="#00cd00"/>
<circle cx="1206.63" cy="151.22" r="3" fill="#00cd00"/>
<circle cx="1212.91" cy="172.17" r="3" fill="#00cd00"/>
<circle cx="1206.63" cy="175.44" r="3" fill="#00cd00"/>
<circle cx="1206.63" cy="257.03" r="3" fill="#00cd00"/>
<rect x="1006.8" y="110.4" width="218.8" height="153.8" fill="none" stroke="#000" stroke-width="1.5"/>
<text x="1430.3" y="109.5" font-size="25.5" font-weight="bold" text-anchor="middle" textLength="56.8" lengthAdjust="spacingAndGlyphs">PGR</text>
<text transform="translate(1264.4 267.6) rotate(-90)" font-size="19.5" font-weight="bold" textLength="149.5" lengthAdjust="spacingAndGlyphs">Log2 expression</text>
<line x1="1312.1" y1="260.2" x2="1320.7" y2="260.2" stroke="#000" stroke-width="1.3"/>
<text x="1306.4" y="265.6" font-size="15" font-weight="bold" text-anchor="end">6</text>
<line x1="1312.1" y1="221.2" x2="1320.7" y2="221.2" stroke="#000" stroke-width="1.3"/>
<text x="1306.4" y="226.6" font-size="15" font-weight="bold" text-anchor="end">8</text>
<line x1="1312.1" y1="182.2" x2="1320.7" y2="182.2" stroke="#000" stroke-width="1.3"/>
<text x="1306.4" y="187.6" font-size="15" font-weight="bold" text-anchor="end">10</text>
<line x1="1312.1" y1="143.2" x2="1320.7" y2="143.2" stroke="#000" stroke-width="1.3"/>
<text x="1306.4" y="148.6" font-size="15" font-weight="bold" text-anchor="end">12</text>
<line x1="1339.38" y1="270.1" x2="1339.38" y2="277.6" stroke="#000" stroke-width="1.3"/>
<text transform="translate(1343.78 284.3) rotate(-90)" font-size="12.6" font-weight="bold" text-anchor="end">E2</text>
<line x1="1339.38" y1="122.91" x2="1339.38" y2="128.67" stroke="#6e6e6e" stroke-width="1.2" stroke-dasharray="6.5 6.5"/>
<line x1="1339.38" y1="132.33" x2="1339.38" y2="142.55" stroke="#6e6e6e" stroke-width="1.2" stroke-dasharray="6.5 6.5"/>
<line x1="1334.18" y1="122.91" x2="1344.58" y2="122.91" stroke="#6e6e6e" stroke-width="1.2"/>
<line x1="1334.18" y1="142.55" x2="1344.58" y2="142.55" stroke="#6e6e6e" stroke-width="1.2"/>
<rect x="1330.18" y="128.67" width="18.4" height="3.67" fill="none" stroke="#6e6e6e" stroke-width="1.1"/>
<line x1="1330.18" y1="131.02" x2="1348.58" y2="131.02" stroke="#8a8a8a" stroke-width="3.4"/>
<circle cx="1339.38" cy="122.91" r="3" fill="#000000"/>
<circle cx="1333.36" cy="128.67" r="3" fill="#000000"/>
<circle cx="1346.19" cy="131.02" r="3" fill="#000000"/>
<circle cx="1339.38" cy="132.33" r="3" fill="#000000"/>
<circle cx="1339.38" cy="142.55" r="3" fill="#000000"/>
<line x1="1361.91" y1="270.1" x2="1361.91" y2="277.6" stroke="#000" stroke-width="1.3"/>
<text transform="translate(1366.31 284.3) rotate(-90)" font-size="12.6" font-weight="bold" text-anchor="end">E2 + FULV</text>
<line x1="1361.91" y1="150.41" x2="1361.91" y2="162.45" stroke="#6e6e6e" stroke-width="1.2" stroke-dasharray="6.5 6.5"/>
<line x1="1361.91" y1="166.12" x2="1361.91" y2="173.98" stroke="#6e6e6e" stroke-width="1.2" stroke-dasharray="6.5 6.5"/>
<line x1="1356.71" y1="150.41" x2="1367.11" y2="150.41" stroke="#6e6e6e" stroke-width="1.2"/>
<line x1="1356.71" y1="173.98" x2="1367.11" y2="173.98" stroke="#6e6e6e" stroke-width="1.2"/>
<rect x="1352.71" y="162.45" width="18.4" height="3.67" fill="none" stroke="#6e6e6e" stroke-width="1.1"/>
<line x1="1352.71" y1="163.76" x2="1371.11" y2="163.76" stroke="#8a8a8a" stroke-width="3.4"/>
<circle cx="1361.91" cy="150.41" r="3" fill="#000000"/>
<circle cx="1356.01" cy="162.45" r="3" fill="#000000"/>
<circle cx="1368.72" cy="163.76" r="3" fill="#000000"/>
<circle cx="1361.91" cy="166.12" r="3" fill="#000000"/>
<circle cx="1361.91" cy="173.98" r="3" fill="#000000"/>
<line x1="1384.56" y1="270.1" x2="1384.56" y2="277.6" stroke="#000" stroke-width="1.3"/>
<text transform="translate(1388.96 284.3) rotate(-90)" font-size="12.6" font-weight="bold" text-anchor="end">E2 + EL</text>
<line x1="1384.56" y1="190.61" x2="1384.56" y2="197.55" stroke="#6e6e6e" stroke-width="1.2" stroke-dasharray="6.5 6.5"/>
<line x1="1384.56" y1="212.48" x2="1384.56" y2="217.2" stroke="#6e6e6e" stroke-width="1.2" stroke-dasharray="6.5 6.5"/>
<line x1="1379.36" y1="190.61" x2="1389.76" y2="190.61" stroke="#6e6e6e" stroke-width="1.2"/>
<line x1="1379.36" y1="217.2" x2="1389.76" y2="217.2" stroke="#6e6e6e" stroke-width="1.2"/>
<rect x="1375.36" y="197.55" width="18.4" height="14.93" fill="none" stroke="#6e6e6e" stroke-width="1.1"/>
<line x1="1375.36" y1="207.64" x2="1393.76" y2="207.64" stroke="#8a8a8a" stroke-width="3.4"/>
<circle cx="1384.56" cy="190.61" r="3" fill="#000000"/>
<circle cx="1384.56" cy="197.55" r="3" fill="#000000"/>
<circle cx="1384.56" cy="207.64" r="3" fill="#000000"/>
<circle cx="1390.46" cy="212.48" r="3" fill="#000000"/>
<circle cx="1384.56" cy="217.2" r="3" fill="#000000"/>
<line x1="1407.09" y1="270.1" x2="1407.09" y2="277.6" stroke="#000" stroke-width="1.3"/>
<text transform="translate(1411.49 284.3) rotate(-90)" font-size="12.6" font-weight="bold" text-anchor="end">E2</text>
<line x1="1407.09" y1="170.71" x2="1407.09" y2="175.55" stroke="#ff5a5a" stroke-width="1.2" stroke-dasharray="6.5 6.5"/>
<line x1="1407.09" y1="182.36" x2="1407.09" y2="184.72" stroke="#ff5a5a" stroke-width="1.2" stroke-dasharray="6.5 6.5"/>
<line x1="1401.89" y1="170.71" x2="1412.29" y2="170.71" stroke="#ff5a5a" stroke-width="1.2"/>
<line x1="1401.89" y1="184.72" x2="1412.29" y2="184.72" stroke="#ff5a5a" stroke-width="1.2"/>
<rect x="1397.89" y="175.55" width="18.4" height="6.81" fill="none" stroke="#ff5a5a" stroke-width="1.1"/>
<line x1="1397.89" y1="180.53" x2="1416.29" y2="180.53" stroke="#ff8c8c" stroke-width="3.4"/>
<circle cx="1412.06" cy="170.71" r="3" fill="#ff0000"/>
<circle cx="1407.09" cy="175.55" r="3" fill="#ff0000"/>
<circle cx="1401.19" cy="180.53" r="3" fill="#ff0000"/>
<circle cx="1414.03" cy="182.36" r="3" fill="#ff0000"/>
<circle cx="1407.09" cy="184.72" r="3" fill="#ff0000"/>
<line x1="1429.74" y1="270.1" x2="1429.74" y2="277.6" stroke="#000" stroke-width="1.3"/>
<text transform="translate(1434.14 284.3) rotate(-90)" font-size="12.6" font-weight="bold" text-anchor="end">E2 + FULV</text>
<line x1="1429.74" y1="196.5" x2="1429.74" y2="197.42" stroke="#ff5a5a" stroke-width="1.2" stroke-dasharray="6.5 6.5"/>
<line x1="1424.54" y1="196.5" x2="1434.94" y2="196.5" stroke="#ff5a5a" stroke-width="1.2"/>
<line x1="1424.54" y1="208.29" x2="1434.94" y2="208.29" stroke="#ff5a5a" stroke-width="1.2"/>
<rect x="1420.54" y="197.42" width="18.4" height="10.61" fill="none" stroke="#ff5a5a" stroke-width="1.1"/>
<line x1="1420.54" y1="201.09" x2="1438.94" y2="201.09" stroke="#ff8c8c" stroke-width="3.4"/>
<circle cx="1424.11" cy="196.5" r="3" fill="#ff0000"/>
<circle cx="1436.29" cy="197.42" r="3" fill="#ff0000"/>
<circle cx="1429.74" cy="201.09" r="3" fill="#ff0000"/>
<circle cx="1429.74" cy="208.29" r="3" fill="#ff0000"/>
<circle cx="1436.95" cy="208.03" r="3" fill="#ff0000"/>
<line x1="1452.27" y1="270.1" x2="1452.27" y2="277.6" stroke="#000" stroke-width="1.3"/>
<text transform="translate(1456.67 284.3) rotate(-90)" font-size="12.6" font-weight="bold" text-anchor="end">E2 + EL</text>
<line x1="1452.27" y1="227.28" x2="1452.27" y2="244.7" stroke="#ff5a5a" stroke-width="1.2" stroke-dasharray="6.5 6.5"/>
<line x1="1452.27" y1="255.7" x2="1452.27" y2="263.03" stroke="#ff5a5a" stroke-width="1.2" stroke-dasharray="6.5 6.5"/>
<line x1="1447.07" y1="227.28" x2="1457.47" y2="227.28" stroke="#ff5a5a" stroke-width="1.2"/>
<line x1="1447.07" y1="263.03" x2="1457.47" y2="263.03" stroke="#ff5a5a" stroke-width="1.2"/>
<rect x="1443.07" y="244.7" width="18.4" height="11" fill="none" stroke="#ff5a5a" stroke-width="1.1"/>
<line x1="1443.07" y1="247.58" x2="1461.47" y2="247.58" stroke="#ff8c8c" stroke-width="3.4"/>
<circle cx="1452.27" cy="227.28" r="3" fill="#ff0000"/>
<circle cx="1459.08" cy="244.7" r="3" fill="#ff0000"/>
<circle cx="1452.27" cy="247.58" r="3" fill="#ff0000"/>
<circle cx="1452.27" cy="255.7" r="3" fill="#ff0000"/>
<circle cx="1452.27" cy="263.03" r="3" fill="#ff0000"/>
<line x1="1475.19" y1="270.1" x2="1475.19" y2="277.6" stroke="#000" stroke-width="1.3"/>
<text transform="translate(1479.59 284.3) rotate(-90)" font-size="12.6" font-weight="bold" text-anchor="end">E2</text>
<line x1="1475.19" y1="139.93" x2="1475.19" y2="143.07" stroke="#4fd64f" stroke-width="1.2" stroke-dasharray="6.5 6.5"/>
<line x1="1475.19" y1="150.41" x2="1475.19" y2="152.63" stroke="#4fd64f" stroke-width="1.2" stroke-dasharray="6.5 6.5"/>
<line x1="1469.99" y1="139.93" x2="1480.39" y2="139.93" stroke="#4fd64f" stroke-width="1.2"/>
<line x1="1469.99" y1="152.63" x2="1480.39" y2="152.63" stroke="#4fd64f" stroke-width="1.2"/>
<rect x="1465.99" y="143.07" width="18.4" height="7.33" fill="none" stroke="#4fd64f" stroke-width="1.1"/>
<line x1="1465.99" y1="144.78" x2="1484.39" y2="144.78" stroke="#84e084" stroke-width="3.4"/>
<circle cx="1469.95" cy="139.93" r="3" fill="#00cd00"/>
<circle cx="1482.13" cy="143.07" r="3" fill="#00cd00"/>
<circle cx="1475.19" cy="144.78" r="3" fill="#00cd00"/>
<circle cx="1481.73" cy="150.41" r="3" fill="#00cd00"/>
<circle cx="1475.19" cy="152.63" r="3" fill="#00cd00"/>
<line x1="1497.58" y1="270.1" x2="1497.58" y2="277.6" stroke="#000" stroke-width="1.3"/>
<text transform="translate(1501.98 284.3) rotate(-90)" font-size="12.6" font-weight="bold" text-anchor="end">E2 + FULV</text>
<line x1="1497.58" y1="145.43" x2="1497.58" y2="151.32" stroke="#4fd64f" stroke-width="1.2" stroke-dasharray="6.5 6.5"/>
<line x1="1497.58" y1="158.26" x2="1497.58" y2="159.44" stroke="#4fd64f" stroke-width="1.2" stroke-dasharray="6.5 6.5"/>
<line x1="1492.38" y1="145.43" x2="1502.78" y2="145.43" stroke="#4fd64f" stroke-width="1.2"/>
<line x1="1492.38" y1="159.44" x2="1502.78" y2="159.44" stroke="#4fd64f" stroke-width="1.2"/>
<rect x="1488.38" y="151.32" width="18.4" height="6.94" fill="none" stroke="#4fd64f" stroke-width="1.1"/>
<line x1="1488.38" y1="157.22" x2="1506.78" y2="157.22" stroke="#84e084" stroke-width="3.4"/>
<circle cx="1501.77" cy="145.43" r="3" fill="#00cd00"/>
<circle cx="1497.58" cy="151.32" r="3" fill="#00cd00"/>
<circle cx="1490.9" cy="157.22" r="3" fill="#00cd00"/>
<circle cx="1497.58" cy="159.44" r="3" fill="#00cd00"/>
<circle cx="1504.65" cy="158.26" r="3" fill="#00cd00"/>
<line x1="1520.1" y1="270.1" x2="1520.1" y2="277.6" stroke="#000" stroke-width="1.3"/>
<text transform="translate(1524.5 284.3) rotate(-90)" font-size="12.6" font-weight="bold" text-anchor="end">E2 + EL</text>
<line x1="1520.1" y1="131.02" x2="1520.1" y2="141.5" stroke="#4fd64f" stroke-width="1.2" stroke-dasharray="6.5 6.5"/>
<line x1="1520.1" y1="168.35" x2="1520.1" y2="201.09" stroke="#4fd64f" stroke-width="1.2" stroke-dasharray="6.5 6.5"/>
<line x1="1514.9" y1="131.02" x2="1525.3" y2="131.02" stroke="#4fd64f" stroke-width="1.2"/>
<line x1="1514.9" y1="201.09" x2="1525.3" y2="201.09" stroke="#4fd64f" stroke-width="1.2"/>
<rect x="1510.9" y="141.5" width="18.4" height="26.85" fill="none" stroke="#4fd64f" stroke-width="1.1"/>
<line x1="1510.9" y1="163.5" x2="1529.3" y2="163.5" stroke="#84e084" stroke-width="3.4"/>
<circle cx="1520.1" cy="131.02" r="3" fill="#00cd00"/>
<circle cx="1520.1" cy="141.5" r="3" fill="#00cd00"/>
<circle cx="1525.34" cy="163.5" r="3" fill="#00cd00"/>
<circle cx="1520.1" cy="168.35" r="3" fill="#00cd00"/>
<circle cx="1520.1" cy="201.09" r="3" fill="#00cd00"/>
<rect x="1320.7" y="115.6" width="218.5" height="154.5" fill="none" stroke="#000" stroke-width="1.5"/>
<text x="1746.1" y="109" font-size="25.5" font-weight="bold" text-anchor="middle" textLength="84.8" lengthAdjust="spacingAndGlyphs">PDZK1</text>
<text transform="translate(1582.2 268) rotate(-90)" font-size="19.5" font-weight="bold" textLength="149.6" lengthAdjust="spacingAndGlyphs">Log2 expression</text>
<line x1="1629.1" y1="261.7" x2="1637.7" y2="261.7" stroke="#000" stroke-width="1.3"/>
<text x="1623.4" y="267.1" font-size="15" font-weight="bold" text-anchor="end">5</text>
<line x1="1629.1" y1="239.72" x2="1637.7" y2="239.72" stroke="#000" stroke-width="1.3"/>
<text x="1623.4" y="245.12" font-size="15" font-weight="bold" text-anchor="end">6</text>
<line x1="1629.1" y1="217.73" x2="1637.7" y2="217.73" stroke="#000" stroke-width="1.3"/>
<text x="1623.4" y="223.13" font-size="15" font-weight="bold" text-anchor="end">7</text>
<line x1="1629.1" y1="195.75" x2="1637.7" y2="195.75" stroke="#000" stroke-width="1.3"/>
<text x="1623.4" y="201.15" font-size="15" font-weight="bold" text-anchor="end">8</text>
<line x1="1629.1" y1="173.77" x2="1637.7" y2="173.77" stroke="#000" stroke-width="1.3"/>
<text x="1623.4" y="179.17" font-size="15" font-weight="bold" text-anchor="end">9</text>
<line x1="1629.1" y1="151.78" x2="1637.7" y2="151.78" stroke="#000" stroke-width="1.3"/>
<text x="1623.4" y="157.18" font-size="15" font-weight="bold" text-anchor="end">10</text>
<line x1="1629.1" y1="129.8" x2="1637.7" y2="129.8" stroke="#000" stroke-width="1.3"/>
<text x="1623.4" y="135.2" font-size="15" font-weight="bold" text-anchor="end">11</text>
<line x1="1656.38" y1="269.6" x2="1656.38" y2="277.1" stroke="#000" stroke-width="1.3"/>
<text transform="translate(1660.78 283.8) rotate(-90)" font-size="12.6" font-weight="bold" text-anchor="end">E2</text>
<line x1="1656.38" y1="160.8" x2="1656.38" y2="163.03" stroke="#6e6e6e" stroke-width="1.2" stroke-dasharray="6.5 6.5"/>
<line x1="1656.38" y1="167.35" x2="1656.38" y2="170.23" stroke="#6e6e6e" stroke-width="1.2" stroke-dasharray="6.5 6.5"/>
<line x1="1651.18" y1="160.8" x2="1661.58" y2="160.8" stroke="#6e6e6e" stroke-width="1.2"/>
<line x1="1651.18" y1="170.23" x2="1661.58" y2="170.23" stroke="#6e6e6e" stroke-width="1.2"/>
<rect x="1647.18" y="163.03" width="18.4" height="4.32" fill="none" stroke="#6e6e6e" stroke-width="1.1"/>
<line x1="1647.18" y1="165.38" x2="1665.58" y2="165.38" stroke="#8a8a8a" stroke-width="3.4"/>
<circle cx="1644.86" cy="163.03" r="3" fill="#000000"/>
<circle cx="1657.3" cy="160.8" r="3" fill="#000000"/>
<circle cx="1651.41" cy="165.38" r="3" fill="#000000"/>
<circle cx="1662.93" cy="167.35" r="3" fill="#000000"/>
<circle cx="1656.38" cy="170.23" r="3" fill="#000000"/>
<line x1="1678.91" y1="269.6" x2="1678.91" y2="277.1" stroke="#000" stroke-width="1.3"/>
<text transform="translate(1683.31 283.8) rotate(-90)" font-size="12.6" font-weight="bold" text-anchor="end">E2 + FULV</text>
<line x1="1678.91" y1="209.52" x2="1678.91" y2="220.78" stroke="#6e6e6e" stroke-width="1.2" stroke-dasharray="6.5 6.5"/>
<line x1="1678.91" y1="225.36" x2="1678.91" y2="230.86" stroke="#6e6e6e" stroke-width="1.2" stroke-dasharray="6.5 6.5"/>
<line x1="1673.71" y1="209.52" x2="1684.11" y2="209.52" stroke="#6e6e6e" stroke-width="1.2"/>
<line x1="1673.71" y1="230.86" x2="1684.11" y2="230.86" stroke="#6e6e6e" stroke-width="1.2"/>
<rect x="1669.71" y="220.78" width="18.4" height="4.58" fill="none" stroke="#6e6e6e" stroke-width="1.1"/>
<line x1="1669.71" y1="221.04" x2="1688.11" y2="221.04" stroke="#8a8a8a" stroke-width="3.4"/>
<circle cx="1678.91" cy="209.52" r="3" fill="#000000"/>
<circle cx="1671.31" cy="220.78" r="3" fill="#000000"/>
<circle cx="1678.64" cy="221.04" r="3" fill="#000000"/>
<circle cx="1683.75" cy="225.36" r="3" fill="#000000"/>
<circle cx="1678.91" cy="230.86" r="3" fill="#000000"/>
<line x1="1701.43" y1="269.6" x2="1701.43" y2="277.1" stroke="#000" stroke-width="1.3"/>
<text transform="translate(1705.83 283.8) rotate(-90)" font-size="12.6" font-weight="bold" text-anchor="end">E2 + EL</text>
<line x1="1701.43" y1="241.99" x2="1701.43" y2="243.04" stroke="#6e6e6e" stroke-width="1.2" stroke-dasharray="6.5 6.5"/>
<line x1="1696.23" y1="241.99" x2="1706.63" y2="241.99" stroke="#6e6e6e" stroke-width="1.2"/>
<line x1="1696.23" y1="262.95" x2="1706.63" y2="262.95" stroke="#6e6e6e" stroke-width="1.2"/>
<rect x="1692.23" y="243.04" width="18.4" height="19.64" fill="none" stroke="#6e6e6e" stroke-width="1.1"/>
<line x1="1692.23" y1="258.76" x2="1710.63" y2="258.76" stroke="#8a8a8a" stroke-width="3.4"/>
<circle cx="1701.43" cy="243.04" r="3" fill="#000000"/>
<circle cx="1708.77" cy="241.99" r="3" fill="#000000"/>
<circle cx="1695.93" cy="258.76" r="3" fill="#000000"/>
<circle cx="1701.43" cy="262.95" r="3" fill="#000000"/>
<circle cx="1708.77" cy="262.69" r="3" fill="#000000"/>
<line x1="1724.09" y1="269.6" x2="1724.09" y2="277.1" stroke="#000" stroke-width="1.3"/>
<text transform="translate(1728.49 283.8) rotate(-90)" font-size="12.6" font-weight="bold" text-anchor="end">E2</text>
<line x1="1724.09" y1="123.08" x2="1724.09" y2="124.52" stroke="#ff5a5a" stroke-width="1.2" stroke-dasharray="6.5 6.5"/>
<line x1="1724.09" y1="128.98" x2="1724.09" y2="131.07" stroke="#ff5a5a" stroke-width="1.2" stroke-dasharray="6.5 6.5"/>
<line x1="1718.89" y1="123.08" x2="1729.29" y2="123.08" stroke="#ff5a5a" stroke-width="1.2"/>
<line x1="1718.89" y1="131.07" x2="1729.29" y2="131.07" stroke="#ff5a5a" stroke-width="1.2"/>
<rect x="1714.89" y="124.52" width="18.4" height="4.45" fill="none" stroke="#ff5a5a" stroke-width="1.1"/>
<line x1="1714.89" y1="125.7" x2="1733.29" y2="125.7" stroke="#ff8c8c" stroke-width="3.4"/>
<circle cx="1713.35" cy="124.52" r="3" fill="#ff0000"/>
<circle cx="1720.42" cy="125.7" r="3" fill="#ff0000"/>
<circle cx="1727.1" cy="123.08" r="3" fill="#ff0000"/>
<circle cx="1731.03" cy="128.98" r="3" fill="#ff0000"/>
<circle cx="1724.09" cy="131.07" r="3" fill="#ff0000"/>
<line x1="1746.74" y1="269.6" x2="1746.74" y2="277.1" stroke="#000" stroke-width="1.3"/>
<text transform="translate(1751.14 283.8) rotate(-90)" font-size="12.6" font-weight="bold" text-anchor="end">E2 + FULV</text>
<line x1="1746.74" y1="148.1" x2="1746.74" y2="149.41" stroke="#ff5a5a" stroke-width="1.2" stroke-dasharray="6.5 6.5"/>
<line x1="1746.74" y1="150.98" x2="1746.74" y2="158.18" stroke="#ff5a5a" stroke-width="1.2" stroke-dasharray="6.5 6.5"/>
<line x1="1741.54" y1="148.1" x2="1751.94" y2="148.1" stroke="#ff5a5a" stroke-width="1.2"/>
<line x1="1741.54" y1="158.18" x2="1751.94" y2="158.18" stroke="#ff5a5a" stroke-width="1.2"/>
<rect x="1737.54" y="149.41" width="18.4" height="1.57" fill="none" stroke="#ff5a5a" stroke-width="1.1"/>
<line x1="1737.54" y1="150.98" x2="1755.94" y2="150.98" stroke="#ff8c8c" stroke-width="3.4"/>
<circle cx="1739.8" cy="149.41" r="3" fill="#ff0000"/>
<circle cx="1746.74" cy="150.98" r="3" fill="#ff0000"/>
<circle cx="1753.95" cy="150.98" r="3" fill="#ff0000"/>
<circle cx="1760.49" cy="148.1" r="3" fill="#ff0000"/>
<circle cx="1746.74" cy="158.18" r="3" fill="#ff0000"/>
<line x1="1769.27" y1="269.6" x2="1769.27" y2="277.1" stroke="#000" stroke-width="1.3"/>
<text transform="translate(1773.67 283.8) rotate(-90)" font-size="12.6" font-weight="bold" text-anchor="end">E2 + EL</text>
<line x1="1769.27" y1="187.38" x2="1769.27" y2="188.3" stroke="#ff5a5a" stroke-width="1.2" stroke-dasharray="6.5 6.5"/>
<line x1="1769.27" y1="191.58" x2="1769.27" y2="193.15" stroke="#ff5a5a" stroke-width="1.2" stroke-dasharray="6.5 6.5"/>
<line x1="1764.07" y1="187.38" x2="1774.47" y2="187.38" stroke="#ff5a5a" stroke-width="1.2"/>
<line x1="1764.07" y1="193.15" x2="1774.47" y2="193.15" stroke="#ff5a5a" stroke-width="1.2"/>
<rect x="1760.07" y="188.3" width="18.4" height="3.27" fill="none" stroke="#ff5a5a" stroke-width="1.1"/>
<line x1="1760.07" y1="190.66" x2="1778.47" y2="190.66" stroke="#ff8c8c" stroke-width="3.4"/>
<circle cx="1756.83" cy="187.38" r="3" fill="#ff0000"/>
<circle cx="1762.98" cy="190.66" r="3" fill="#ff0000"/>
<circle cx="1769.27" cy="193.15" r="3" fill="#ff0000"/>
<circle cx="1776.21" cy="191.58" r="3" fill="#ff0000"/>
<circle cx="1782.63" cy="188.3" r="3" fill="#ff0000"/>
<line x1="1792.19" y1="269.6" x2="1792.19" y2="277.1" stroke="#000" stroke-width="1.3"/>
<text transform="translate(1796.59 283.8) rotate(-90)" font-size="12.6" font-weight="bold" text-anchor="end">E2</text>
<line x1="1792.19" y1="149.67" x2="1792.19" y2="156.61" stroke="#4fd64f" stroke-width="1.2" stroke-dasharray="6.5 6.5"/>
<line x1="1792.19" y1="164.99" x2="1792.19" y2="167.74" stroke="#4fd64f" stroke-width="1.2" stroke-dasharray="6.5 6.5"/>
<line x1="1786.99" y1="149.67" x2="1797.39" y2="149.67" stroke="#4fd64f" stroke-width="1.2"/>
<line x1="1786.99" y1="167.74" x2="1797.39" y2="167.74" stroke="#4fd64f" stroke-width="1.2"/>
<rect x="1782.99" y="156.61" width="18.4" height="8.38" fill="none" stroke="#4fd64f" stroke-width="1.1"/>
<line x1="1782.99" y1="160.15" x2="1801.39" y2="160.15" stroke="#84e084" stroke-width="3.4"/>
<circle cx="1792.19" cy="149.67" r="3" fill="#00cd00"/>
<circle cx="1798.47" cy="156.61" r="3" fill="#00cd00"/>
<circle cx="1792.19" cy="160.15" r="3" fill="#00cd00"/>
<circle cx="1798.73" cy="164.99" r="3" fill="#00cd00"/>
<circle cx="1792.19" cy="167.74" r="3" fill="#00cd00"/>
<line x1="1814.58" y1="269.6" x2="1814.58" y2="277.1" stroke="#000" stroke-width="1.3"/>
<text transform="translate(1818.98 283.8) rotate(-90)" font-size="12.6" font-weight="bold" text-anchor="end">E2 + FULV</text>
<line x1="1814.58" y1="176.78" x2="1814.58" y2="193.15" stroke="#4fd64f" stroke-width="1.2" stroke-dasharray="6.5 6.5"/>
<line x1="1809.38" y1="176.78" x2="1819.78" y2="176.78" stroke="#4fd64f" stroke-width="1.2"/>
<line x1="1809.38" y1="203.75" x2="1819.78" y2="203.75" stroke="#4fd64f" stroke-width="1.2"/>
<rect x="1805.38" y="193.15" width="18.4" height="10.21" fill="none" stroke="#4fd64f" stroke-width="1.1"/>
<line x1="1805.38" y1="199.04" x2="1823.78" y2="199.04" stroke="#84e084" stroke-width="3.4"/>
<circle cx="1814.58" cy="176.78" r="3" fill="#00cd00"/>
<circle cx="1814.58" cy="193.15" r="3" fill="#00cd00"/>
<circle cx="1809.87" cy="199.04" r="3" fill="#00cd00"/>
<circle cx="1814.58" cy="203.75" r="3" fill="#00cd00"/>
<circle cx="1821.65" cy="203.36" r="3" fill="#00cd00"/>
<line x1="1837.1" y1="269.6" x2="1837.1" y2="277.1" stroke="#000" stroke-width="1.3"/>
<text transform="translate(1841.5 283.8) rotate(-90)" font-size="12.6" font-weight="bold" text-anchor="end">E2 + EL</text>
<line x1="1837.1" y1="176.51" x2="1837.1" y2="193.54" stroke="#4fd64f" stroke-width="1.2" stroke-dasharray="6.5 6.5"/>
<line x1="1837.1" y1="219.08" x2="1837.1" y2="243.96" stroke="#4fd64f" stroke-width="1.2" stroke-dasharray="6.5 6.5"/>
<line x1="1831.9" y1="176.51" x2="1842.3" y2="176.51" stroke="#4fd64f" stroke-width="1.2"/>
<line x1="1831.9" y1="243.96" x2="1842.3" y2="243.96" stroke="#4fd64f" stroke-width="1.2"/>
<rect x="1827.9" y="193.54" width="18.4" height="25.54" fill="none" stroke="#4fd64f" stroke-width="1.1"/>
<line x1="1827.9" y1="202.44" x2="1846.3" y2="202.44" stroke="#84e084" stroke-width="3.4"/>
<circle cx="1837.1" cy="176.51" r="3" fill="#00cd00"/>
<circle cx="1837.1" cy="193.54" r="3" fill="#00cd00"/>
<circle cx="1837.1" cy="202.44" r="3" fill="#00cd00"/>
<circle cx="1837.1" cy="219.08" r="3" fill="#00cd00"/>
<circle cx="1837.1" cy="243.96" r="3" fill="#00cd00"/>
<rect x="1637.7" y="115.9" width="218.5" height="153.7" fill="none" stroke="#000" stroke-width="1.5"/>
<text x="56" y="562.9" font-size="24">FDR</text>
<rect x="68.6" y="585.5" width="11.9" height="11.2" fill="#000"/>
<text x="98" y="597.6" font-size="18.5">&gt; 0.1</text>
<rect x="60.2" y="614" width="28.4" height="27.9" fill="#000"/>
<text x="98" y="635.2" font-size="18.5">&lt; 0.1</text>
<text x="56" y="712.9" font-size="24">Enrichment_Score</text>
<defs><linearGradient id="gB" x1="0" y1="0" x2="0" y2="1"><stop offset="0" stop-color="#ff6746"/><stop offset="0.03" stop-color="#ff7150"/><stop offset="0.05" stop-color="#ff7b5a"/><stop offset="0.07" stop-color="#ff8565"/><stop offset="0.1" stop-color="#ff8e6f"/><stop offset="0.12" stop-color="#ff9779"/><stop offset="0.15" stop-color="#ffa084"/><stop offset="0.17" stop-color="#ffa98e"/><stop offset="0.2" stop-color="#ffb299"/><stop offset="0.23" stop-color="#ffbaa4"/><stop offset="0.25" stop-color="#ffc3af"/><stop offset="0.28" stop-color="#ffcbba"/><stop offset="0.3" stop-color="#ffd4c5"/><stop offset="0.33" stop-color="#ffdcd0"/><stop offset="0.35" stop-color="#ffe5db"/><stop offset="0.38" stop-color="#ffede6"/><stop offset="0.4" stop-color="#fff5f2"/><stop offset="0.42" stop-color="#fffefd"/><stop offset="0.45" stop-color="#faf6ff"/><stop offset="0.47" stop-color="#f4ecff"/><stop offset="0.5" stop-color="#eee2ff"/><stop offset="0.53" stop-color="#e8d8ff"/><stop offset="0.55" stop-color="#e2cdff"/><stop offset="0.57" stop-color="#dbc3ff"/><stop offset="0.6" stop-color="#d4b9ff"/><stop offset="0.62" stop-color="#ceafff"/><stop offset="0.65" stop-color="#c6a5ff"/><stop offset="0.68" stop-color="#bf9bff"/><stop offset="0.7" stop-color="#b791ff"/><stop offset="0.72" stop-color="#b087ff"/><stop offset="0.75" stop-color="#a77dff"/><stop offset="0.78" stop-color="#9f73ff"/><stop offset="0.8" stop-color="#9569ff"/><stop offset="0.82" stop-color="#8c5fff"/><stop offset="0.85" stop-color="#8155ff"/><stop offset="0.88" stop-color="#764aff"/><stop offset="0.9" stop-color="#6a3fff"/><stop offset="0.93" stop-color="#5b34ff"/><stop offset="0.95" stop-color="#4a27ff"/><stop offset="0.97" stop-color="#3418ff"/><stop offset="1" stop-color="#0000ff"/></linearGradient>
<linearGradient id="gC" x1="0" y1="0" x2="1" y2="0"><stop offset="0" stop-color="#0000ff"/><stop offset="0.05" stop-color="#0000ff"/><stop offset="0.1" stop-color="#1515ff"/><stop offset="0.15" stop-color="#3232ff"/><stop offset="0.2" stop-color="#4f4fff"/><stop offset="0.25" stop-color="#6c6cff"/><stop offset="0.3" stop-color="#8989ff"/><stop offset="0.35" stop-color="#a6a6ff"/><stop offset="0.4" stop-color="#c3c3ff"/><stop offset="0.45" stop-color="#e0e0ff"/><stop offset="0.5" stop-color="#fdfdff"/><stop offset="0.55" stop-color="#ffe4e4"/><stop offset="0.6" stop-color="#ffc7c7"/><stop offset="0.65" stop-color="#ffaaaa"/><stop offset="0.7" stop-color="#ff8d8d"/><stop offset="0.75" stop-color="#ff7070"/><stop offset="0.8" stop-color="#ff5353"/><stop offset="0.85" stop-color="#ff3636"/><stop offset="0.9" stop-color="#ff1919"/><stop offset="0.95" stop-color="#ff0000"/><stop offset="1" stop-color="#ff0000"/></linearGradient></defs>
<rect x="55.5" y="722.4" width="37.8" height="187.6" fill="url(#gB)"/>
<line x1="55.5" y1="752.1" x2="63" y2="752.1" stroke="#fff" stroke-width="1.2"/>
<line x1="85.8" y1="752.1" x2="93.3" y2="752.1" stroke="#fff" stroke-width="1.2"/>
<text x="102.9" y="759.3" font-size="18.5">0.4</text>
<line x1="55.5" y1="802.9" x2="63" y2="802.9" stroke="#fff" stroke-width="1.2"/>
<line x1="85.8" y1="802.9" x2="93.3" y2="802.9" stroke="#fff" stroke-width="1.2"/>
<text x="102.9" y="810.1" font-size="18.5">0.0</text>
<line x1="55.5" y1="853.7" x2="63" y2="853.7" stroke="#fff" stroke-width="1.2"/>
<line x1="85.8" y1="853.7" x2="93.3" y2="853.7" stroke="#fff" stroke-width="1.2"/>
<text x="102.9" y="860.9" font-size="18.5">-0.4</text>
<line x1="55.5" y1="904.5" x2="63" y2="904.5" stroke="#fff" stroke-width="1.2"/>
<line x1="85.8" y1="904.5" x2="93.3" y2="904.5" stroke="#fff" stroke-width="1.2"/>
<text x="102.9" y="911.7" font-size="18.5">-0.8</text>
<text x="787" y="774.55" font-size="28" text-anchor="end" fill="#4d4d4d">HALLMARK_HEDGEHOG_SIGNALING</text>
<line x1="793.5" y1="764.95" x2="802.3" y2="764.95" stroke="#222" stroke-width="2.6"/>
<rect x="820.95" y="757.35" width="16.5" height="15.2" fill="#ff9677"/>
<rect x="854.2" y="746.2" width="40.4" height="37.5" fill="#ff8f70"/>
<rect x="911.45" y="757.35" width="16.5" height="15.2" fill="#ffa488"/>
<rect x="967.5" y="757.35" width="16.5" height="15.2" fill="#ffb29a"/>
<rect x="1012.7" y="757.35" width="16.5" height="15.2" fill="#ffa488"/>
<rect x="1057.85" y="757.35" width="16.5" height="15.2" fill="#ffbaa4"/>
<rect x="1102.5" y="746.2" width="38.5" height="37.5" fill="#ff6746"/>
<rect x="1146" y="746.2" width="40.3" height="37.5" fill="#ff8161"/>
<rect x="1191" y="746.2" width="40.6" height="37.5" fill="#ff6947"/>
<text x="787" y="819.98" font-size="28" text-anchor="end" fill="#4d4d4d">HALLMARK_APICAL_JUNCTION</text>
<line x1="793.5" y1="810.38" x2="802.3" y2="810.38" stroke="#222" stroke-width="2.6"/>
<rect x="809.2" y="791.63" width="40" height="37.5" fill="#ff8868"/>
<rect x="854.2" y="791.63" width="40.4" height="37.5" fill="#ff8868"/>
<rect x="899.5" y="791.63" width="40.4" height="37.5" fill="#ffa488"/>
<rect x="955.6" y="791.63" width="40.3" height="37.5" fill="#ff9677"/>
<rect x="1000.9" y="791.63" width="40.1" height="37.5" fill="#ff9d80"/>
<rect x="1045.9" y="791.63" width="40.4" height="37.5" fill="#ff9a7c"/>
<rect x="1102.5" y="791.63" width="38.5" height="37.5" fill="#ff9d80"/>
<rect x="1146" y="791.63" width="40.3" height="37.5" fill="#ff9677"/>
<rect x="1191" y="791.63" width="40.6" height="37.5" fill="#ffab91"/>
<text x="787" y="865.4" font-size="28" text-anchor="end" fill="#4d4d4d">HALLMARK_APICAL_SURFACE</text>
<line x1="793.5" y1="855.8" x2="802.3" y2="855.8" stroke="#222" stroke-width="2.6"/>
<rect x="809.2" y="837.05" width="40" height="37.5" fill="#ff8464"/>
<rect x="854.2" y="837.05" width="40.4" height="37.5" fill="#ff6746"/>
<rect x="911.45" y="848.2" width="16.5" height="15.2" fill="#ff9677"/>
<rect x="967.5" y="848.2" width="16.5" height="15.2" fill="#ff8868"/>
<rect x="1012.7" y="848.2" width="16.5" height="15.2" fill="#c09cff"/>
<rect x="1045.9" y="837.05" width="40.4" height="37.5" fill="#ff8161"/>
<rect x="1113.5" y="848.2" width="16.5" height="15.2" fill="#ffb29a"/>
<rect x="1157.9" y="848.2" width="16.5" height="15.2" fill="#ffb29a"/>
<rect x="1191" y="837.05" width="40.6" height="37.5" fill="#ff9677"/>
<text x="787" y="910.83" font-size="28" text-anchor="end" fill="#4d4d4d">HALLMARK_TGF_BETA_SIGNALING</text>
<line x1="793.5" y1="901.23" x2="802.3" y2="901.23" stroke="#222" stroke-width="2.6"/>
<rect x="809.2" y="882.48" width="40" height="37.5" fill="#ff8868"/>
<rect x="854.2" y="882.48" width="40.4" height="37.5" fill="#ff8868"/>
<rect x="899.5" y="882.48" width="40.4" height="37.5" fill="#ff8161"/>
<rect x="967.5" y="893.63" width="16.5" height="15.2" fill="#ffa488"/>
<rect x="1012.7" y="893.63" width="16.5" height="15.2" fill="#d2b5ff"/>
<rect x="1057.85" y="893.63" width="16.5" height="15.2" fill="#ff8f70"/>
<rect x="1102.5" y="882.48" width="38.5" height="37.5" fill="#ff9677"/>
<rect x="1157.9" y="893.63" width="16.5" height="15.2" fill="#ffa488"/>
<rect x="1191" y="882.48" width="40.6" height="37.5" fill="#ff8868"/>
<text x="787" y="956.26" font-size="28" text-anchor="end" fill="#4d4d4d">HALLMARK_MYOGENESIS</text>
<line x1="793.5" y1="946.66" x2="802.3" y2="946.66" stroke="#222" stroke-width="2.6"/>
<rect x="809.2" y="927.91" width="40" height="37.5" fill="#ff8f70"/>
<rect x="854.2" y="927.91" width="40.4" height="37.5" fill="#ff8161"/>
<rect x="899.5" y="927.91" width="40.4" height="37.5" fill="#ff9f83"/>
<rect x="955.6" y="927.91" width="40.3" height="37.5" fill="#ff9677"/>
<rect x="1000.9" y="927.91" width="40.1" height="37.5" fill="#ff9d80"/>
<rect x="1045.9" y="927.91" width="40.4" height="37.5" fill="#ff9d80"/>
<rect x="1113.5" y="939.06" width="16.5" height="15.2" fill="#ffcbb9"/>
<rect x="1157.9" y="939.06" width="16.5" height="15.2" fill="#ffb29a"/>
<rect x="1203.05" y="939.06" width="16.5" height="15.2" fill="#dec8ff"/>
<text x="787" y="1001.69" font-size="28" text-anchor="end" fill="#4d4d4d">HALLMARK_UV_RESPONSE_DN</text>
<line x1="793.5" y1="992.09" x2="802.3" y2="992.09" stroke="#222" stroke-width="2.6"/>
<rect x="809.2" y="973.34" width="40" height="37.5" fill="#ff9d80"/>
<rect x="854.2" y="973.34" width="40.4" height="37.5" fill="#ff9677"/>
<rect x="899.5" y="973.34" width="40.4" height="37.5" fill="#ffae94"/>
<rect x="967.5" y="984.49" width="16.5" height="15.2" fill="#d2b5ff"/>
<rect x="1012.7" y="984.49" width="16.5" height="15.2" fill="#b790ff"/>
<rect x="1057.85" y="984.49" width="16.5" height="15.2" fill="#ffbaa4"/>
<rect x="1102.5" y="973.34" width="38.5" height="37.5" fill="#ff8f70"/>
<rect x="1146" y="973.34" width="40.3" height="37.5" fill="#ff8f70"/>
<rect x="1191" y="973.34" width="40.6" height="37.5" fill="#ff8c6d"/>
<text x="787" y="1047.11" font-size="28" text-anchor="end" fill="#4d4d4d">HALLMARK_ANGIOGENESIS</text>
<line x1="793.5" y1="1037.51" x2="802.3" y2="1037.51" stroke="#222" stroke-width="2.6"/>
<rect x="820.95" y="1029.91" width="16.5" height="15.2" fill="#ff8868"/>
<rect x="854.2" y="1018.76" width="40.4" height="37.5" fill="#ff6746"/>
<rect x="911.45" y="1029.91" width="16.5" height="15.2" fill="#ffa488"/>
<rect x="967.5" y="1029.91" width="16.5" height="15.2" fill="#996dff"/>
<rect x="1012.7" y="1029.91" width="16.5" height="15.2" fill="#ad84ff"/>
<rect x="1057.85" y="1029.91" width="16.5" height="15.2" fill="#ffab91"/>
<rect x="1113.5" y="1029.91" width="16.5" height="15.2" fill="#ff8f70"/>
<rect x="1146" y="1018.76" width="40.3" height="37.5" fill="#ff8464"/>
<rect x="1203.05" y="1029.91" width="16.5" height="15.2" fill="#ffbaa4"/>
<text x="787" y="1092.54" font-size="28" text-anchor="end" fill="#4d4d4d">HALLMARK_XENOBIOTIC_METABOLISM</text>
<line x1="793.5" y1="1082.94" x2="802.3" y2="1082.94" stroke="#222" stroke-width="2.6"/>
<rect x="820.95" y="1075.34" width="16.5" height="15.2" fill="#ffc2ae"/>
<rect x="866.15" y="1075.34" width="16.5" height="15.2" fill="#ffc2ae"/>
<rect x="911.45" y="1075.34" width="16.5" height="15.2" fill="#ffc7b5"/>
<rect x="955.6" y="1064.19" width="40.3" height="37.5" fill="#ffa88d"/>
<rect x="1012.7" y="1075.34" width="16.5" height="15.2" fill="#ffae94"/>
<rect x="1045.9" y="1064.19" width="40.4" height="37.5" fill="#ffa88d"/>
<rect x="1113.5" y="1075.34" width="16.5" height="15.2" fill="#ffcbb9"/>
<rect x="1157.9" y="1075.34" width="16.5" height="15.2" fill="#ffbaa4"/>
<rect x="1203.05" y="1075.34" width="16.5" height="15.2" fill="#dbc2ff"/>
<text x="787" y="1137.97" font-size="28" text-anchor="end" fill="#4d4d4d">HALLMARK_HEME_METABOLISM</text>
<line x1="793.5" y1="1128.37" x2="802.3" y2="1128.37" stroke="#222" stroke-width="2.6"/>
<rect x="820.95" y="1120.77" width="16.5" height="15.2" fill="#ffc2ae"/>
<rect x="866.15" y="1120.77" width="16.5" height="15.2" fill="#ffc2ae"/>
<rect x="911.45" y="1120.77" width="16.5" height="15.2" fill="#ffbaa4"/>
<rect x="967.5" y="1120.77" width="16.5" height="15.2" fill="#ffcbb9"/>
<rect x="1012.7" y="1120.77" width="16.5" height="15.2" fill="#d2b5ff"/>
<rect x="1057.85" y="1120.77" width="16.5" height="15.2" fill="#ffb7a0"/>
<rect x="1102.5" y="1109.62" width="38.5" height="37.5" fill="#ffb59e"/>
<rect x="1146" y="1109.62" width="40.3" height="37.5" fill="#ffb59e"/>
<rect x="1191" y="1109.62" width="40.6" height="37.5" fill="#ffab91"/>
<text x="787" y="1183.39" font-size="28" text-anchor="end" fill="#4d4d4d">HALLMARK_IL6_JAK_STAT3_SIGNALING</text>
<line x1="793.5" y1="1173.79" x2="802.3" y2="1173.79" stroke="#222" stroke-width="2.6"/>
<rect x="809.2" y="1155.04" width="40" height="37.5" fill="#ff9677"/>
<rect x="854.2" y="1155.04" width="40.4" height="37.5" fill="#ff8868"/>
<rect x="911.45" y="1166.19" width="16.5" height="15.2" fill="#ff9d80"/>
<rect x="967.5" y="1166.19" width="16.5" height="15.2" fill="#b790ff"/>
<rect x="1000.9" y="1155.04" width="40.1" height="37.5" fill="#8e61ff"/>
<rect x="1057.85" y="1166.19" width="16.5" height="15.2" fill="#ffae94"/>
<rect x="1102.5" y="1155.04" width="38.5" height="37.5" fill="#ffa88d"/>
<rect x="1146" y="1155.04" width="40.3" height="37.5" fill="#ff8f70"/>
<rect x="1203.05" y="1166.19" width="16.5" height="15.2" fill="#ffb59e"/>
<text x="787" y="1228.82" font-size="28" text-anchor="end" fill="#4d4d4d">HALLMARK_EPITHELIAL_MESENCHYMAL_TRANSITION</text>
<line x1="793.5" y1="1219.22" x2="802.3" y2="1219.22" stroke="#222" stroke-width="2.6"/>
<rect x="809.2" y="1200.47" width="40" height="37.5" fill="#ffa488"/>
<rect x="854.2" y="1200.47" width="40.4" height="37.5" fill="#ff9a7c"/>
<rect x="911.45" y="1211.62" width="16.5" height="15.2" fill="#ffb29a"/>
<rect x="967.5" y="1211.62" width="16.5" height="15.2" fill="#c09cff"/>
<rect x="1012.7" y="1211.62" width="16.5" height="15.2" fill="#ad84ff"/>
<rect x="1057.85" y="1211.62" width="16.5" height="15.2" fill="#ffa488"/>
<rect x="1113.5" y="1211.62" width="16.5" height="15.2" fill="#ffbaa4"/>
<rect x="1146" y="1200.47" width="40.3" height="37.5" fill="#ffab91"/>
<rect x="1203.05" y="1211.62" width="16.5" height="15.2" fill="#ffc2ae"/>
<text x="787" y="1274.25" font-size="28" text-anchor="end" fill="#4d4d4d">HALLMARK_INFLAMMATORY_RESPONSE</text>
<line x1="793.5" y1="1264.65" x2="802.3" y2="1264.65" stroke="#222" stroke-width="2.6"/>
<rect x="809.2" y="1245.9" width="40" height="37.5" fill="#ff8c6d"/>
<rect x="854.2" y="1245.9" width="40.4" height="37.5" fill="#ff8c6d"/>
<rect x="899.5" y="1245.9" width="40.4" height="37.5" fill="#ffa488"/>
<rect x="967.5" y="1257.05" width="16.5" height="15.2" fill="#c9a9ff"/>
<rect x="1000.9" y="1245.9" width="40.1" height="37.5" fill="#a77dff"/>
<rect x="1057.85" y="1257.05" width="16.5" height="15.2" fill="#ff9a7c"/>
<rect x="1113.5" y="1257.05" width="16.5" height="15.2" fill="#ffbaa4"/>
<rect x="1146" y="1245.9" width="40.3" height="37.5" fill="#ffab91"/>
<rect x="1203.05" y="1257.05" width="16.5" height="15.2" fill="#dec8ff"/>
<text x="787" y="1319.67" font-size="28" text-anchor="end" fill="#4d4d4d">HALLMARK_INTERFERON_ALPHA_RESPONSE</text>
<line x1="793.5" y1="1310.07" x2="802.3" y2="1310.07" stroke="#222" stroke-width="2.6"/>
<rect x="809.2" y="1291.32" width="40" height="37.5" fill="#ff9a7c"/>
<rect x="854.2" y="1291.32" width="40.4" height="37.5" fill="#ff9f83"/>
<rect x="899.5" y="1291.32" width="40.4" height="37.5" fill="#ffa488"/>
<rect x="967.5" y="1302.47" width="16.5" height="15.2" fill="#ffb59e"/>
<rect x="1012.7" y="1302.47" width="16.5" height="15.2" fill="#ff9a7c"/>
<rect x="1057.85" y="1302.47" width="16.5" height="15.2" fill="#c9a9ff"/>
<rect x="1113.5" y="1302.47" width="16.5" height="15.2" fill="#e3d0ff"/>
<rect x="1157.9" y="1302.47" width="16.5" height="15.2" fill="#ffc2ae"/>
<rect x="1191" y="1291.32" width="40.6" height="37.5" fill="#c09cff"/>
<text x="787" y="1365.1" font-size="28" text-anchor="end" fill="#4d4d4d">HALLMARK_INTERFERON_GAMMA_RESPONSE</text>
<line x1="793.5" y1="1355.5" x2="802.3" y2="1355.5" stroke="#222" stroke-width="2.6"/>
<rect x="809.2" y="1336.75" width="40" height="37.5" fill="#ff9a7c"/>
<rect x="854.2" y="1336.75" width="40.4" height="37.5" fill="#ff9a7c"/>
<rect x="899.5" y="1336.75" width="40.4" height="37.5" fill="#ffa488"/>
<rect x="967.5" y="1347.9" width="16.5" height="15.2" fill="#ffb59e"/>
<rect x="1012.7" y="1347.9" width="16.5" height="15.2" fill="#ffa88d"/>
<rect x="1057.85" y="1347.9" width="16.5" height="15.2" fill="#d2b5ff"/>
<rect x="1113.5" y="1347.9" width="16.5" height="15.2" fill="#e0caff"/>
<rect x="1157.9" y="1347.9" width="16.5" height="15.2" fill="#ffc7b5"/>
<rect x="1203.05" y="1347.9" width="16.5" height="15.2" fill="#d2b5ff"/>
<text x="787" y="1410.53" font-size="28" text-anchor="end" fill="#4d4d4d">HALLMARK_KRAS_SIGNALING_DN</text>
<line x1="793.5" y1="1400.93" x2="802.3" y2="1400.93" stroke="#222" stroke-width="2.6"/>
<rect x="809.2" y="1382.18" width="40" height="37.5" fill="#ff9f83"/>
<rect x="866.15" y="1393.33" width="16.5" height="15.2" fill="#ffa488"/>
<rect x="899.5" y="1382.18" width="40.4" height="37.5" fill="#ff9173"/>
<rect x="967.5" y="1393.33" width="16.5" height="15.2" fill="#ad84ff"/>
<rect x="1000.9" y="1382.18" width="40.1" height="37.5" fill="#996dff"/>
<rect x="1045.9" y="1382.18" width="40.4" height="37.5" fill="#ff9677"/>
<rect x="1113.5" y="1393.33" width="16.5" height="15.2" fill="#ffb59e"/>
<rect x="1157.9" y="1393.33" width="16.5" height="15.2" fill="#c9a9ff"/>
<rect x="1191" y="1382.18" width="40.6" height="37.5" fill="#ffa88d"/>
<text x="787" y="1455.95" font-size="28" text-anchor="end" fill="#4d4d4d">HALLMARK_COMPLEMENT</text>
<line x1="793.5" y1="1446.36" x2="802.3" y2="1446.36" stroke="#222" stroke-width="2.6"/>
<rect x="809.2" y="1427.61" width="40" height="37.5" fill="#ffae94"/>
<rect x="854.2" y="1427.61" width="40.4" height="37.5" fill="#ff9f83"/>
<rect x="911.45" y="1438.76" width="16.5" height="15.2" fill="#ffb29a"/>
<rect x="967.5" y="1438.76" width="16.5" height="15.2" fill="#ad84ff"/>
<rect x="1000.9" y="1427.61" width="40.1" height="37.5" fill="#996dff"/>
<rect x="1057.85" y="1438.76" width="16.5" height="15.2" fill="#ffb59e"/>
<rect x="1113.5" y="1438.76" width="16.5" height="15.2" fill="#ffcbb9"/>
<rect x="1157.9" y="1438.76" width="16.5" height="15.2" fill="#ffc7b5"/>
<rect x="1203.05" y="1438.76" width="16.5" height="15.2" fill="#ffd4c5"/>
<text x="787" y="1501.38" font-size="28" text-anchor="end" fill="#4d4d4d">HALLMARK_HYPOXIA</text>
<line x1="793.5" y1="1491.78" x2="802.3" y2="1491.78" stroke="#222" stroke-width="2.6"/>
<rect x="809.2" y="1473.03" width="40" height="37.5" fill="#ff9f83"/>
<rect x="854.2" y="1473.03" width="40.4" height="37.5" fill="#ff9173"/>
<rect x="899.5" y="1473.03" width="40.4" height="37.5" fill="#ffb29a"/>
<rect x="967.5" y="1484.18" width="16.5" height="15.2" fill="#b38bff"/>
<rect x="1000.9" y="1473.03" width="40.1" height="37.5" fill="#b790ff"/>
<rect x="1057.85" y="1484.18" width="16.5" height="15.2" fill="#c9a9ff"/>
<rect x="1113.5" y="1484.18" width="16.5" height="15.2" fill="#ffcbb9"/>
<rect x="1157.9" y="1484.18" width="16.5" height="15.2" fill="#ffbfaa"/>
<rect x="1203.05" y="1484.18" width="16.5" height="15.2" fill="#ffc7b5"/>
<text x="787" y="1546.81" font-size="28" text-anchor="end" fill="#4d4d4d">HALLMARK_IL2_STAT5_SIGNALING</text>
<line x1="793.5" y1="1537.21" x2="802.3" y2="1537.21" stroke="#222" stroke-width="2.6"/>
<rect x="809.2" y="1518.46" width="40" height="37.5" fill="#ffab91"/>
<rect x="854.2" y="1518.46" width="40.4" height="37.5" fill="#ff9d80"/>
<rect x="911.45" y="1529.61" width="16.5" height="15.2" fill="#ffbaa4"/>
<rect x="967.5" y="1529.61" width="16.5" height="15.2" fill="#c09cff"/>
<rect x="1012.7" y="1529.61" width="16.5" height="15.2" fill="#bb95ff"/>
<rect x="1057.85" y="1529.61" width="16.5" height="15.2" fill="#d2b5ff"/>
<rect x="1113.5" y="1529.61" width="16.5" height="15.2" fill="#ffcfbe"/>
<rect x="1157.9" y="1529.61" width="16.5" height="15.2" fill="#ffc7b5"/>
<rect x="1203.05" y="1529.61" width="16.5" height="15.2" fill="#ffc2ae"/>
<text x="787" y="1592.24" font-size="28" text-anchor="end" fill="#4d4d4d">HALLMARK_ADIPOGENESIS</text>
<line x1="793.5" y1="1582.64" x2="802.3" y2="1582.64" stroke="#222" stroke-width="2.6"/>
<rect x="820.95" y="1575.04" width="16.5" height="15.2" fill="#ffd4c5"/>
<rect x="866.15" y="1575.04" width="16.5" height="15.2" fill="#ffcfbe"/>
<rect x="911.45" y="1575.04" width="16.5" height="15.2" fill="#ffd8cb"/>
<rect x="967.5" y="1575.04" width="16.5" height="15.2" fill="#ffae94"/>
<rect x="1012.7" y="1575.04" width="16.5" height="15.2" fill="#ffae94"/>
<rect x="1057.85" y="1575.04" width="16.5" height="15.2" fill="#ffb29a"/>
<rect x="1102.5" y="1563.89" width="38.5" height="37.5" fill="#c9a9ff"/>
<rect x="1157.9" y="1575.04" width="16.5" height="15.2" fill="#d7bdff"/>
<rect x="1191" y="1563.89" width="40.6" height="37.5" fill="#c09cff"/>
<text x="787" y="1637.66" font-size="28" text-anchor="end" fill="#4d4d4d">HALLMARK_TNFA_SIGNALING_VIA_NFKB</text>
<line x1="793.5" y1="1628.06" x2="802.3" y2="1628.06" stroke="#222" stroke-width="2.6"/>
<rect x="809.2" y="1609.31" width="40" height="37.5" fill="#ff9677"/>
<rect x="854.2" y="1609.31" width="40.4" height="37.5" fill="#ff9374"/>
<rect x="899.5" y="1609.31" width="40.4" height="37.5" fill="#ffa488"/>
<rect x="955.6" y="1609.31" width="40.3" height="37.5" fill="#a77dff"/>
<rect x="1000.9" y="1609.31" width="40.1" height="37.5" fill="#9f74ff"/>
<rect x="1057.85" y="1620.46" width="16.5" height="15.2" fill="#c09cff"/>
<rect x="1113.5" y="1620.46" width="16.5" height="15.2" fill="#ffcbb9"/>
<rect x="1157.9" y="1620.46" width="16.5" height="15.2" fill="#ffc2ae"/>
<rect x="1203.05" y="1620.46" width="16.5" height="15.2" fill="#e8d8ff"/>
<text x="787" y="1683.09" font-size="28" text-anchor="end" fill="#4d4d4d">HALLMARK_COAGULATION</text>
<line x1="793.5" y1="1673.49" x2="802.3" y2="1673.49" stroke="#222" stroke-width="2.6"/>
<rect x="809.2" y="1654.74" width="40" height="37.5" fill="#ff8565"/>
<rect x="854.2" y="1654.74" width="40.4" height="37.5" fill="#ff8161"/>
<rect x="899.5" y="1654.74" width="40.4" height="37.5" fill="#ff9374"/>
<rect x="967.5" y="1665.89" width="16.5" height="15.2" fill="#9f74ff"/>
<rect x="1000.9" y="1654.74" width="40.1" height="37.5" fill="#8e61ff"/>
<rect x="1057.85" y="1665.89" width="16.5" height="15.2" fill="#ffab91"/>
<rect x="1113.5" y="1665.89" width="16.5" height="15.2" fill="#d7bdff"/>
<rect x="1157.9" y="1665.89" width="16.5" height="15.2" fill="#d4b8ff"/>
<rect x="1203.05" y="1665.89" width="16.5" height="15.2" fill="#dbc2ff"/>
<text x="787" y="1728.52" font-size="28" text-anchor="end" fill="#4d4d4d">HALLMARK_KRAS_SIGNALING_UP</text>
<line x1="793.5" y1="1718.92" x2="802.3" y2="1718.92" stroke="#222" stroke-width="2.6"/>
<rect x="809.2" y="1700.17" width="40" height="37.5" fill="#ff9374"/>
<rect x="854.2" y="1700.17" width="40.4" height="37.5" fill="#ff9677"/>
<rect x="899.5" y="1700.17" width="40.4" height="37.5" fill="#ffa488"/>
<rect x="955.6" y="1700.17" width="40.3" height="37.5" fill="#ad84ff"/>
<rect x="1000.9" y="1700.17" width="40.1" height="37.5" fill="#a77dff"/>
<rect x="1057.85" y="1711.32" width="16.5" height="15.2" fill="#bb95ff"/>
<rect x="1113.5" y="1711.32" width="16.5" height="15.2" fill="#dbc2ff"/>
<rect x="1146" y="1700.17" width="40.3" height="37.5" fill="#ffb29a"/>
<rect x="1203.05" y="1711.32" width="16.5" height="15.2" fill="#e0caff"/>
<text x="787" y="1773.94" font-size="28" text-anchor="end" fill="#4d4d4d">HALLMARK_ALLOGRAFT_REJECTION</text>
<line x1="793.5" y1="1764.34" x2="802.3" y2="1764.34" stroke="#222" stroke-width="2.6"/>
<rect x="809.2" y="1745.59" width="40" height="37.5" fill="#ffa488"/>
<rect x="854.2" y="1745.59" width="40.4" height="37.5" fill="#ff9a7c"/>
<rect x="911.45" y="1756.74" width="16.5" height="15.2" fill="#ffbaa4"/>
<rect x="967.5" y="1756.74" width="16.5" height="15.2" fill="#cdaeff"/>
<rect x="1012.7" y="1756.74" width="16.5" height="15.2" fill="#bb95ff"/>
<rect x="1057.85" y="1756.74" width="16.5" height="15.2" fill="#ffab91"/>
<rect x="1113.5" y="1756.74" width="16.5" height="15.2" fill="#cdaeff"/>
<rect x="1157.9" y="1756.74" width="16.5" height="15.2" fill="#d4b8ff"/>
<rect x="1203.05" y="1756.74" width="16.5" height="15.2" fill="#bb95ff"/>
<text x="787" y="1819.37" font-size="28" text-anchor="end" fill="#4d4d4d">HALLMARK_MITOTIC_SPINDLE</text>
<line x1="793.5" y1="1809.77" x2="802.3" y2="1809.77" stroke="#222" stroke-width="2.6"/>
<rect x="809.2" y="1791.02" width="40" height="37.5" fill="#c09cff"/>
<rect x="866.15" y="1802.17" width="16.5" height="15.2" fill="#ffb7a0"/>
<rect x="899.5" y="1791.02" width="40.4" height="37.5" fill="#9f74ff"/>
<rect x="967.5" y="1802.17" width="16.5" height="15.2" fill="#c9a9ff"/>
<rect x="1012.7" y="1802.17" width="16.5" height="15.2" fill="#e3d0ff"/>
<rect x="1057.85" y="1802.17" width="16.5" height="15.2" fill="#bb95ff"/>
<rect x="1102.5" y="1791.02" width="38.5" height="37.5" fill="#ff9d80"/>
<rect x="1146" y="1791.02" width="40.3" height="37.5" fill="#ffa488"/>
<rect x="1191" y="1791.02" width="40.6" height="37.5" fill="#ff9374"/>
<text x="787" y="1864.8" font-size="28" text-anchor="end" fill="#4d4d4d">HALLMARK_UV_RESPONSE_UP</text>
<line x1="793.5" y1="1855.2" x2="802.3" y2="1855.2" stroke="#222" stroke-width="2.6"/>
<rect x="809.2" y="1836.45" width="40" height="37.5" fill="#c9a9ff"/>
<rect x="866.15" y="1847.6" width="16.5" height="15.2" fill="#ffc2ae"/>
<rect x="899.5" y="1836.45" width="40.4" height="37.5" fill="#bb95ff"/>
<rect x="967.5" y="1847.6" width="16.5" height="15.2" fill="#ffbaa4"/>
<rect x="1012.7" y="1847.6" width="16.5" height="15.2" fill="#d7bdff"/>
<rect x="1057.85" y="1847.6" width="16.5" height="15.2" fill="#ffbaa4"/>
<rect x="1113.5" y="1847.6" width="16.5" height="15.2" fill="#d7bdff"/>
<rect x="1157.9" y="1847.6" width="16.5" height="15.2" fill="#ffd0c0"/>
<rect x="1191" y="1836.45" width="40.6" height="37.5" fill="#c9a9ff"/>
<text x="787" y="1910.22" font-size="28" text-anchor="end" fill="#4d4d4d">HALLMARK_REACTIVE_OXIGEN_SPECIES_PATHWAY</text>
<line x1="793.5" y1="1900.62" x2="802.3" y2="1900.62" stroke="#222" stroke-width="2.6"/>
<rect x="820.95" y="1893.03" width="16.5" height="15.2" fill="#d7bdff"/>
<rect x="866.15" y="1893.03" width="16.5" height="15.2" fill="#cdaeff"/>
<rect x="911.45" y="1893.03" width="16.5" height="15.2" fill="#d7bdff"/>
<rect x="967.5" y="1893.03" width="16.5" height="15.2" fill="#ffa488"/>
<rect x="1012.7" y="1893.03" width="16.5" height="15.2" fill="#ffae94"/>
<rect x="1057.85" y="1893.03" width="16.5" height="15.2" fill="#ffa185"/>
<rect x="1102.5" y="1881.88" width="38.5" height="37.5" fill="#ad84ff"/>
<rect x="1157.9" y="1893.03" width="16.5" height="15.2" fill="#b38bff"/>
<rect x="1191" y="1881.88" width="40.6" height="37.5" fill="#ad84ff"/>
<text x="787" y="1955.65" font-size="28" text-anchor="end" fill="#4d4d4d">HALLMARK_DNA_REPAIR</text>
<line x1="793.5" y1="1946.05" x2="802.3" y2="1946.05" stroke="#222" stroke-width="2.6"/>
<rect x="809.2" y="1927.3" width="40" height="37.5" fill="#bb95ff"/>
<rect x="854.2" y="1927.3" width="40.4" height="37.5" fill="#c9a9ff"/>
<rect x="899.5" y="1927.3" width="40.4" height="37.5" fill="#bb95ff"/>
<rect x="967.5" y="1938.45" width="16.5" height="15.2" fill="#ffc2ae"/>
<rect x="1012.7" y="1938.45" width="16.5" height="15.2" fill="#ffc2ae"/>
<rect x="1057.85" y="1938.45" width="16.5" height="15.2" fill="#ffd0c0"/>
<rect x="1102.5" y="1927.3" width="38.5" height="37.5" fill="#b38bff"/>
<rect x="1146" y="1927.3" width="40.3" height="37.5" fill="#b38bff"/>
<rect x="1191" y="1927.3" width="40.6" height="37.5" fill="#ad84ff"/>
<text x="787" y="2001.08" font-size="28" text-anchor="end" fill="#4d4d4d">HALLMARK_OXIDATIVE_PHOSPHORYLATION</text>
<line x1="793.5" y1="1991.48" x2="802.3" y2="1991.48" stroke="#222" stroke-width="2.6"/>
<rect x="809.2" y="1972.73" width="40" height="37.5" fill="#ad84ff"/>
<rect x="854.2" y="1972.73" width="40.4" height="37.5" fill="#996dff"/>
<rect x="911.45" y="1983.88" width="16.5" height="15.2" fill="#cdaeff"/>
<rect x="967.5" y="1983.88" width="16.5" height="15.2" fill="#ffae94"/>
<rect x="1012.7" y="1983.88" width="16.5" height="15.2" fill="#ffab91"/>
<rect x="1057.85" y="1983.88" width="16.5" height="15.2" fill="#ffbaa4"/>
<rect x="1102.5" y="1972.73" width="38.5" height="37.5" fill="#8e61ff"/>
<rect x="1146" y="1972.73" width="40.3" height="37.5" fill="#9f74ff"/>
<rect x="1191" y="1972.73" width="40.6" height="37.5" fill="#7b4fff"/>
<text x="787" y="2046.51" font-size="28" text-anchor="end" fill="#4d4d4d">HALLMARK_SPERMATOGENESIS</text>
<line x1="793.5" y1="2036.91" x2="802.3" y2="2036.91" stroke="#222" stroke-width="2.6"/>
<rect x="809.2" y="2018.16" width="40" height="37.5" fill="#8e61ff"/>
<rect x="854.2" y="2018.16" width="40.4" height="37.5" fill="#b790ff"/>
<rect x="899.5" y="2018.16" width="40.4" height="37.5" fill="#8356ff"/>
<rect x="967.5" y="2029.31" width="16.5" height="15.2" fill="#bb95ff"/>
<rect x="1012.7" y="2029.31" width="16.5" height="15.2" fill="#d2b5ff"/>
<rect x="1057.85" y="2029.31" width="16.5" height="15.2" fill="#b790ff"/>
<rect x="1113.5" y="2029.31" width="16.5" height="15.2" fill="#e3d0ff"/>
<rect x="1157.9" y="2029.31" width="16.5" height="15.2" fill="#d7bdff"/>
<rect x="1203.05" y="2029.31" width="16.5" height="15.2" fill="#dbc2ff"/>
<text x="787" y="2091.93" font-size="28" text-anchor="end" fill="#4d4d4d">HALLMARK_MTORC1_SIGNALING</text>
<line x1="793.5" y1="2082.33" x2="802.3" y2="2082.33" stroke="#222" stroke-width="2.6"/>
<rect x="809.2" y="2063.58" width="40" height="37.5" fill="#9f74ff"/>
<rect x="854.2" y="2063.58" width="40.4" height="37.5" fill="#a77dff"/>
<rect x="899.5" y="2063.58" width="40.4" height="37.5" fill="#9f74ff"/>
<rect x="967.5" y="2074.73" width="16.5" height="15.2" fill="#b790ff"/>
<rect x="1012.7" y="2074.73" width="16.5" height="15.2" fill="#c09cff"/>
<rect x="1057.85" y="2074.73" width="16.5" height="15.2" fill="#c4a1ff"/>
<rect x="1102.5" y="2063.58" width="38.5" height="37.5" fill="#c4a1ff"/>
<rect x="1157.9" y="2074.73" width="16.5" height="15.2" fill="#c4a1ff"/>
<rect x="1191" y="2063.58" width="40.6" height="37.5" fill="#b790ff"/>
<text x="787" y="2137.36" font-size="28" text-anchor="end" fill="#4d4d4d">HALLMARK_G2M_CHECKPOINT</text>
<line x1="793.5" y1="2127.76" x2="802.3" y2="2127.76" stroke="#222" stroke-width="2.6"/>
<rect x="809.2" y="2109.01" width="40" height="37.5" fill="#683eff"/>
<rect x="854.2" y="2109.01" width="40.4" height="37.5" fill="#a379ff"/>
<rect x="899.5" y="2109.01" width="40.4" height="37.5" fill="#4422ff"/>
<rect x="955.6" y="2109.01" width="40.3" height="37.5" fill="#9f74ff"/>
<rect x="1012.7" y="2120.16" width="16.5" height="15.2" fill="#dbc2ff"/>
<rect x="1045.9" y="2109.01" width="40.4" height="37.5" fill="#9366ff"/>
<rect x="1113.5" y="2120.16" width="16.5" height="15.2" fill="#dbc2ff"/>
<rect x="1157.9" y="2120.16" width="16.5" height="15.2" fill="#dbc2ff"/>
<rect x="1203.05" y="2120.16" width="16.5" height="15.2" fill="#dbc2ff"/>
<text x="787" y="2182.79" font-size="28" text-anchor="end" fill="#4d4d4d">HALLMARK_UNFOLDED_PROTEIN_RESPONSE</text>
<line x1="793.5" y1="2173.19" x2="802.3" y2="2173.19" stroke="#222" stroke-width="2.6"/>
<rect x="809.2" y="2154.44" width="40" height="37.5" fill="#9568ff"/>
<rect x="854.2" y="2154.44" width="40.4" height="37.5" fill="#8e61ff"/>
<rect x="899.5" y="2154.44" width="40.4" height="37.5" fill="#9568ff"/>
<rect x="955.6" y="2154.44" width="40.3" height="37.5" fill="#996dff"/>
<rect x="1012.7" y="2165.59" width="16.5" height="15.2" fill="#b790ff"/>
<rect x="1045.9" y="2154.44" width="40.4" height="37.5" fill="#9f74ff"/>
<rect x="1102.5" y="2154.44" width="38.5" height="37.5" fill="#ad84ff"/>
<rect x="1146" y="2154.44" width="40.3" height="37.5" fill="#bb95ff"/>
<rect x="1191" y="2154.44" width="40.6" height="37.5" fill="#ad84ff"/>
<text x="787" y="2228.21" font-size="28" text-anchor="end" fill="#4d4d4d">HALLMARK_E2F_TARGETS</text>
<line x1="793.5" y1="2218.61" x2="802.3" y2="2218.61" stroke="#222" stroke-width="2.6"/>
<rect x="809.2" y="2199.86" width="40" height="37.5" fill="#260fff"/>
<rect x="854.2" y="2199.86" width="40.4" height="37.5" fill="#8e61ff"/>
<rect x="899.5" y="2199.86" width="40.4" height="37.5" fill="#0000ff"/>
<rect x="955.6" y="2199.86" width="40.3" height="37.5" fill="#9f74ff"/>
<rect x="1012.7" y="2211.01" width="16.5" height="15.2" fill="#ecdeff"/>
<rect x="1045.9" y="2199.86" width="40.4" height="37.5" fill="#8a5dff"/>
<rect x="1102.5" y="2199.86" width="38.5" height="37.5" fill="#b790ff"/>
<rect x="1157.9" y="2211.01" width="16.5" height="15.2" fill="#b790ff"/>
<rect x="1191" y="2199.86" width="40.6" height="37.5" fill="#b790ff"/>
<text x="787" y="2273.64" font-size="28" text-anchor="end" fill="#4d4d4d">HALLMARK_MYC_TARGETS_V1</text>
<line x1="793.5" y1="2264.04" x2="802.3" y2="2264.04" stroke="#222" stroke-width="2.6"/>
<rect x="809.2" y="2245.29" width="40" height="37.5" fill="#5831ff"/>
<rect x="854.2" y="2245.29" width="40.4" height="37.5" fill="#683eff"/>
<rect x="899.5" y="2245.29" width="40.4" height="37.5" fill="#7045ff"/>
<rect x="955.6" y="2245.29" width="40.3" height="37.5" fill="#b38bff"/>
<rect x="1012.7" y="2256.44" width="16.5" height="15.2" fill="#e8d8ff"/>
<rect x="1045.9" y="2245.29" width="40.4" height="37.5" fill="#9f74ff"/>
<rect x="1102.5" y="2245.29" width="38.5" height="37.5" fill="#8356ff"/>
<rect x="1146" y="2245.29" width="40.3" height="37.5" fill="#996dff"/>
<rect x="1191" y="2245.29" width="40.6" height="37.5" fill="#7045ff"/>
<text x="787" y="2319.07" font-size="28" text-anchor="end" fill="#4d4d4d">HALLMARK_ESTROGEN_RESPONSE_EARLY</text>
<line x1="793.5" y1="2309.47" x2="802.3" y2="2309.47" stroke="#222" stroke-width="2.6"/>
<rect x="809.2" y="2290.72" width="40" height="37.5" fill="#683eff"/>
<rect x="854.2" y="2290.72" width="40.4" height="37.5" fill="#683eff"/>
<rect x="899.5" y="2290.72" width="40.4" height="37.5" fill="#7045ff"/>
<rect x="955.6" y="2290.72" width="40.3" height="37.5" fill="#0000ff"/>
<rect x="1000.9" y="2290.72" width="40.1" height="37.5" fill="#4422ff"/>
<rect x="1045.9" y="2290.72" width="40.4" height="37.5" fill="#0000ff"/>
<rect x="1102.5" y="2290.72" width="38.5" height="37.5" fill="#b790ff"/>
<rect x="1146" y="2290.72" width="40.3" height="37.5" fill="#b38bff"/>
<rect x="1203.05" y="2301.87" width="16.5" height="15.2" fill="#c9a9ff"/>
<text x="787" y="2364.49" font-size="28" text-anchor="end" fill="#4d4d4d">HALLMARK_ESTROGEN_RESPONSE_LATE</text>
<line x1="793.5" y1="2354.89" x2="802.3" y2="2354.89" stroke="#222" stroke-width="2.6"/>
<rect x="809.2" y="2336.14" width="40" height="37.5" fill="#7045ff"/>
<rect x="854.2" y="2336.14" width="40.4" height="37.5" fill="#764aff"/>
<rect x="899.5" y="2336.14" width="40.4" height="37.5" fill="#764aff"/>
<rect x="955.6" y="2336.14" width="40.3" height="37.5" fill="#0000ff"/>
<rect x="1000.9" y="2336.14" width="40.1" height="37.5" fill="#4422ff"/>
<rect x="1045.9" y="2336.14" width="40.4" height="37.5" fill="#260fff"/>
<rect x="1102.5" y="2336.14" width="38.5" height="37.5" fill="#ad84ff"/>
<rect x="1146" y="2336.14" width="40.3" height="37.5" fill="#a77dff"/>
<rect x="1191" y="2336.14" width="40.6" height="37.5" fill="#b38bff"/>
<text x="787" y="2409.92" font-size="28" text-anchor="end" fill="#4d4d4d">HALLMARK_MYC_TARGETS_V2</text>
<line x1="793.5" y1="2400.32" x2="802.3" y2="2400.32" stroke="#222" stroke-width="2.6"/>
<rect x="809.2" y="2381.57" width="40" height="37.5" fill="#260fff"/>
<rect x="854.2" y="2381.57" width="40.4" height="37.5" fill="#5831ff"/>
<rect x="899.5" y="2381.57" width="40.4" height="37.5" fill="#4422ff"/>
<rect x="955.6" y="2381.57" width="40.3" height="37.5" fill="#8e61ff"/>
<rect x="1012.7" y="2392.72" width="16.5" height="15.2" fill="#b38bff"/>
<rect x="1045.9" y="2381.57" width="40.4" height="37.5" fill="#8356ff"/>
<rect x="1102.5" y="2381.57" width="38.5" height="37.5" fill="#8a5dff"/>
<rect x="1146" y="2381.57" width="40.3" height="37.5" fill="#996dff"/>
<rect x="1191" y="2381.57" width="40.6" height="37.5" fill="#764aff"/>
<text transform="translate(832.4 728.4) rotate(-90)" font-size="27" textLength="106" lengthAdjust="spacingAndGlyphs">EL vs Ctrl</text>
<text transform="translate(880.3 728.4) rotate(-90)" font-size="27" textLength="110.3" lengthAdjust="spacingAndGlyphs">ICI vs Ctrl</text>
<text transform="translate(925.7 728.4) rotate(-90)" font-size="27" textLength="93.8" lengthAdjust="spacingAndGlyphs">EL vs ICI</text>
<text transform="translate(977.1 728.4) rotate(-90)" font-size="27" textLength="106" lengthAdjust="spacingAndGlyphs">EL vs Ctrl</text>
<text transform="translate(1025 728.4) rotate(-90)" font-size="27" textLength="110.3" lengthAdjust="spacingAndGlyphs">ICI vs Ctrl</text>
<text transform="translate(1071.1 728.4) rotate(-90)" font-size="27" textLength="93.8" lengthAdjust="spacingAndGlyphs">EL vs ICI</text>
<text transform="translate(1125 728.4) rotate(-90)" font-size="27" textLength="106" lengthAdjust="spacingAndGlyphs">EL vs Ctrl</text>
<text transform="translate(1172.9 728.4) rotate(-90)" font-size="27" textLength="110.3" lengthAdjust="spacingAndGlyphs">ICI vs Ctrl</text>
<text transform="translate(1218.6 728.4) rotate(-90)" font-size="27" textLength="93.8" lengthAdjust="spacingAndGlyphs">EL vs ICI</text>
<text x="873.5" y="2475.7" font-size="25.5" text-anchor="middle">MCF7</text>
<text x="1018" y="2457.1" font-size="25.5" text-anchor="middle">MCF7-</text>
<text x="975.7" y="2492.9" font-size="25.5">LTED</text>
<text x="1037.5" y="2486.6" font-size="16.5" textLength="22.5" lengthAdjust="spacingAndGlyphs">WT</text>
<text x="1171.8" y="2457" font-size="25.5" text-anchor="middle">MCF7-</text>
<text x="1118" y="2493" font-size="25.5">LTED</text>
<text x="1180" y="2486.8" font-size="16.5" textLength="46" lengthAdjust="spacingAndGlyphs">Y537C</text>
<defs><filter id="blC" x="-5%" y="-5%" width="110%" height="110%"><feGaussianBlur stdDeviation="0.7"/></filter></defs><g filter="url(#blC)">
<rect x="1380.6" y="650.9" width="39.4" height="36.95" fill="#d9d9ff"/>
<rect x="1419.6" y="650.9" width="39.3" height="36.95" fill="#9999ff"/>
<rect x="1458.5" y="650.9" width="34.7" height="36.95" fill="#c6c6ff"/>
<rect x="1506.3" y="650.9" width="38" height="36.95" fill="#f2f2ff"/>
<rect x="1543.9" y="650.9" width="39" height="36.95" fill="#d9d9ff"/>
<rect x="1582.5" y="650.9" width="32.9" height="36.95" fill="#e6e6ff"/>
<rect x="1628.9" y="650.9" width="36" height="36.95" fill="#f2f2ff"/>
<rect x="1664.5" y="650.9" width="39" height="36.95" fill="#e6e6ff"/>
<rect x="1703.1" y="650.9" width="39.3" height="36.95" fill="#f9f9ff"/>
<rect x="1380.6" y="687.25" width="39.4" height="36.95" fill="#dfdfff"/>
<rect x="1419.6" y="687.25" width="39.3" height="36.95" fill="#ccccff"/>
<rect x="1458.5" y="687.25" width="34.7" height="36.95" fill="#f0f0ff"/>
<rect x="1506.3" y="687.25" width="38" height="36.95" fill="#fff2f2"/>
<rect x="1543.9" y="687.25" width="39" height="36.95" fill="#fbfbff"/>
<rect x="1582.5" y="687.25" width="32.9" height="36.95" fill="#e8e8ff"/>
<rect x="1628.9" y="687.25" width="36" height="36.95" fill="#f9f9ff"/>
<rect x="1664.5" y="687.25" width="39" height="36.95" fill="#f6f6ff"/>
<rect x="1703.1" y="687.25" width="39.3" height="36.95" fill="#fcfcff"/>
<rect x="1380.6" y="723.6" width="39.4" height="36.95" fill="#f2f2ff"/>
<rect x="1419.6" y="723.6" width="39.3" height="36.95" fill="#a6a6ff"/>
<rect x="1458.5" y="723.6" width="34.7" height="36.95" fill="#bfbfff"/>
<rect x="1506.3" y="723.6" width="38" height="36.95" fill="#fbfbff"/>
<rect x="1543.9" y="723.6" width="39" height="36.95" fill="#c9c9ff"/>
<rect x="1582.5" y="723.6" width="32.9" height="36.95" fill="#ccccff"/>
<rect x="1628.9" y="723.6" width="36" height="36.95" fill="#f9f9ff"/>
<rect x="1664.5" y="723.6" width="39" height="36.95" fill="#f5f5ff"/>
<rect x="1703.1" y="723.6" width="39.3" height="36.95" fill="#fbfbff"/>
<rect x="1380.6" y="759.95" width="39.4" height="36.95" fill="#d2d2ff"/>
<rect x="1419.6" y="759.95" width="39.3" height="36.95" fill="#6c6cff"/>
<rect x="1458.5" y="759.95" width="34.7" height="36.95" fill="#9999ff"/>
<rect x="1506.3" y="759.95" width="38" height="36.95" fill="#f2f2ff"/>
<rect x="1543.9" y="759.95" width="39" height="36.95" fill="#bfbfff"/>
<rect x="1582.5" y="759.95" width="32.9" height="36.95" fill="#ccccff"/>
<rect x="1628.9" y="759.95" width="36" height="36.95" fill="#eeeeff"/>
<rect x="1664.5" y="759.95" width="39" height="36.95" fill="#eeeeff"/>
<rect x="1506.3" y="796.3" width="38" height="36.95" fill="#f9f9ff"/>
<rect x="1543.9" y="796.3" width="39" height="36.95" fill="#dfdfff"/>
<rect x="1582.5" y="796.3" width="32.9" height="36.95" fill="#ececff"/>
<rect x="1380.6" y="832.65" width="39.4" height="36.95" fill="#e3e3ff"/>
<rect x="1419.6" y="832.65" width="39.3" height="36.95" fill="#acacff"/>
<rect x="1458.5" y="832.65" width="34.7" height="36.95" fill="#d2d2ff"/>
<rect x="1506.3" y="832.65" width="38" height="36.95" fill="#f0f0ff"/>
<rect x="1543.9" y="832.65" width="39" height="36.95" fill="#e8e8ff"/>
<rect x="1582.5" y="832.65" width="32.9" height="36.95" fill="#fbfbff"/>
<rect x="1628.9" y="832.65" width="36" height="36.95" fill="#fcfcff"/>
<rect x="1664.5" y="832.65" width="39" height="36.95" fill="#fcfcff"/>
<rect x="1703.1" y="832.65" width="39.3" height="36.95" fill="#fcfcff"/>
<rect x="1380.6" y="869" width="39.4" height="36.95" fill="#f9f9ff"/>
<rect x="1419.6" y="869" width="39.3" height="36.95" fill="#e3e3ff"/>
<rect x="1458.5" y="869" width="34.7" height="36.95" fill="#f2f2ff"/>
<rect x="1506.3" y="869" width="38" height="36.95" fill="#fcfcff"/>
<rect x="1543.9" y="869" width="39" height="36.95" fill="#fcfcff"/>
<rect x="1664.5" y="869" width="39" height="36.95" fill="#fcfcff"/>
<rect x="1703.1" y="869" width="39.3" height="36.95" fill="#fcfcff"/>
<rect x="1380.6" y="905.35" width="39.4" height="36.95" fill="#bfbfff"/>
<rect x="1419.6" y="905.35" width="39.3" height="36.95" fill="#7373ff"/>
<rect x="1458.5" y="905.35" width="34.7" height="36.95" fill="#a6a6ff"/>
<rect x="1506.3" y="905.35" width="38" height="36.95" fill="#f9f9ff"/>
<rect x="1543.9" y="905.35" width="39" height="36.95" fill="#dfdfff"/>
<rect x="1582.5" y="905.35" width="32.9" height="36.95" fill="#ececff"/>
<rect x="1628.9" y="905.35" width="36" height="36.95" fill="#f2f2ff"/>
<rect x="1664.5" y="905.35" width="39" height="36.95" fill="#dbdbff"/>
<rect x="1703.1" y="905.35" width="39.3" height="36.95" fill="#f2f2ff"/>
<rect x="1380.6" y="941.7" width="39.4" height="36.95" fill="#9999ff"/>
<rect x="1419.6" y="941.7" width="39.3" height="36.95" fill="#7373ff"/>
<rect x="1458.5" y="941.7" width="34.7" height="36.95" fill="#dbdbff"/>
<rect x="1506.3" y="941.7" width="38" height="36.95" fill="#f9f9ff"/>
<rect x="1543.9" y="941.7" width="39" height="36.95" fill="#e6e6ff"/>
<rect x="1582.5" y="941.7" width="32.9" height="36.95" fill="#f9f9ff"/>
<rect x="1628.9" y="941.7" width="36" height="36.95" fill="#fbfbff"/>
<rect x="1664.5" y="941.7" width="39" height="36.95" fill="#f2f2ff"/>
<rect x="1703.1" y="941.7" width="39.3" height="36.95" fill="#fafaff"/>
<rect x="1380.6" y="978.05" width="39.4" height="36.95" fill="#a6a6ff"/>
<rect x="1419.6" y="978.05" width="39.3" height="36.95" fill="#6c6cff"/>
<rect x="1458.5" y="978.05" width="34.7" height="36.95" fill="#b0b0ff"/>
<rect x="1506.3" y="978.05" width="38" height="36.95" fill="#e8e8ff"/>
<rect x="1543.9" y="978.05" width="39" height="36.95" fill="#c9c9ff"/>
<rect x="1582.5" y="978.05" width="32.9" height="36.95" fill="#e8e8ff"/>
<rect x="1628.9" y="978.05" width="36" height="36.95" fill="#e6e6ff"/>
<rect x="1664.5" y="978.05" width="39" height="36.95" fill="#d9d9ff"/>
<rect x="1703.1" y="978.05" width="39.3" height="36.95" fill="#f2f2ff"/>
<rect x="1380.6" y="1014.4" width="39.4" height="36.95" fill="#f2f2ff"/>
<rect x="1419.6" y="1014.4" width="39.3" height="36.95" fill="#b9b9ff"/>
<rect x="1458.5" y="1014.4" width="34.7" height="36.95" fill="#d2d2ff"/>
<rect x="1506.3" y="1014.4" width="38" height="36.95" fill="#f9f9ff"/>
<rect x="1543.9" y="1014.4" width="39" height="36.95" fill="#dfdfff"/>
<rect x="1582.5" y="1014.4" width="32.9" height="36.95" fill="#f0f0ff"/>
<rect x="1664.5" y="1014.4" width="39" height="36.95" fill="#f5f5ff"/>
<rect x="1703.1" y="1014.4" width="39.3" height="36.95" fill="#f9f9ff"/>
<rect x="1506.3" y="1050.75" width="38" height="36.95" fill="#fff6f6"/>
<rect x="1543.9" y="1050.75" width="39" height="36.95" fill="#fff6f6"/>
<rect x="1664.5" y="1050.75" width="39" height="36.95" fill="#fcfcff"/>
<rect x="1703.1" y="1050.75" width="39.3" height="36.95" fill="#fcfcff"/>
<rect x="1380.6" y="1087.1" width="39.4" height="36.95" fill="#e8e8ff"/>
<rect x="1419.6" y="1087.1" width="39.3" height="36.95" fill="#fbfbff"/>
<rect x="1458.5" y="1087.1" width="34.7" height="36.95" fill="#fff2f2"/>
<rect x="1506.3" y="1087.1" width="38" height="36.95" fill="#f9f9ff"/>
<rect x="1582.5" y="1087.1" width="32.9" height="36.95" fill="#fff5f5"/>
<rect x="1628.9" y="1087.1" width="36" height="36.95" fill="#fbfbff"/>
<rect x="1664.5" y="1087.1" width="39" height="36.95" fill="#fcfcff"/>
<rect x="1703.1" y="1087.1" width="39.3" height="36.95" fill="#fcfcff"/>
<rect x="1380.6" y="1123.45" width="39.4" height="36.95" fill="#dfdfff"/>
<rect x="1419.6" y="1123.45" width="39.3" height="36.95" fill="#b9b9ff"/>
<rect x="1458.5" y="1123.45" width="34.7" height="36.95" fill="#e3e3ff"/>
<rect x="1506.3" y="1123.45" width="38" height="36.95" fill="#fbfbff"/>
<rect x="1543.9" y="1123.45" width="39" height="36.95" fill="#f2f2ff"/>
<rect x="1582.5" y="1123.45" width="32.9" height="36.95" fill="#f9f9ff"/>
<rect x="1628.9" y="1123.45" width="36" height="36.95" fill="#fcfcff"/>
<rect x="1664.5" y="1123.45" width="39" height="36.95" fill="#f9f9ff"/>
<rect x="1703.1" y="1123.45" width="39.3" height="36.95" fill="#f9f9ff"/>
<rect x="1380.6" y="1159.8" width="39.4" height="36.95" fill="#fcfcff"/>
<rect x="1419.6" y="1159.8" width="39.3" height="36.95" fill="#ececff"/>
<rect x="1458.5" y="1159.8" width="34.7" height="36.95" fill="#eeeeff"/>
<rect x="1506.3" y="1159.8" width="38" height="36.95" fill="#fbfbff"/>
<rect x="1543.9" y="1159.8" width="39" height="36.95" fill="#f9f9ff"/>
<rect x="1628.9" y="1159.8" width="36" height="36.95" fill="#fffbfb"/>
<rect x="1703.1" y="1159.8" width="39.3" height="36.95" fill="#fbfbff"/>
<rect x="1506.3" y="1196.15" width="38" height="36.95" fill="#ffd9d9"/>
<rect x="1543.9" y="1196.15" width="39" height="36.95" fill="#ffbfbf"/>
<rect x="1582.5" y="1196.15" width="32.9" height="36.95" fill="#ffdfdf"/>
<rect x="1380.6" y="1232.5" width="39.4" height="36.95" fill="#ffe8e8"/>
<rect x="1419.6" y="1232.5" width="39.3" height="36.95" fill="#ffcccc"/>
<rect x="1458.5" y="1232.5" width="34.7" height="36.95" fill="#ffdbdb"/>
<rect x="1506.3" y="1232.5" width="38" height="36.95" fill="#fff0f0"/>
<rect x="1543.9" y="1232.5" width="39" height="36.95" fill="#ffeeee"/>
<rect x="1582.5" y="1232.5" width="32.9" height="36.95" fill="#fff5f5"/>
<rect x="1628.9" y="1232.5" width="36" height="36.95" fill="#ffe8e8"/>
<rect x="1664.5" y="1232.5" width="39" height="36.95" fill="#ffdbdb"/>
<rect x="1703.1" y="1232.5" width="39.3" height="36.95" fill="#fff0f0"/>
<rect x="1380.6" y="1268.85" width="39.4" height="36.95" fill="#b2b2ff"/>
<rect x="1419.6" y="1268.85" width="39.3" height="36.95" fill="#7979ff"/>
<rect x="1458.5" y="1268.85" width="34.7" height="36.95" fill="#b0b0ff"/>
<rect x="1506.3" y="1268.85" width="38" height="36.95" fill="#f2f2ff"/>
<rect x="1543.9" y="1268.85" width="39" height="36.95" fill="#ccccff"/>
<rect x="1582.5" y="1268.85" width="32.9" height="36.95" fill="#e6e6ff"/>
<rect x="1628.9" y="1268.85" width="36" height="36.95" fill="#e6e6ff"/>
<rect x="1664.5" y="1268.85" width="39" height="36.95" fill="#d2d2ff"/>
<rect x="1703.1" y="1268.85" width="39.3" height="36.95" fill="#f0f0ff"/>
<rect x="1543.9" y="1305.2" width="39" height="36.95" fill="#f5f5ff"/>
<rect x="1582.5" y="1305.2" width="32.9" height="36.95" fill="#f5f5ff"/>
<rect x="1628.9" y="1305.2" width="36" height="36.95" fill="#fff9f9"/>
<rect x="1703.1" y="1305.2" width="39.3" height="36.95" fill="#fbfbff"/>
<rect x="1380.6" y="1341.55" width="39.4" height="36.95" fill="#fffbfb"/>
<rect x="1419.6" y="1341.55" width="39.3" height="36.95" fill="#f9f9ff"/>
<rect x="1458.5" y="1341.55" width="34.7" height="36.95" fill="#f2f2ff"/>
<rect x="1664.5" y="1341.55" width="39" height="36.95" fill="#fcfcff"/>
<rect x="1703.1" y="1341.55" width="39.3" height="36.95" fill="#fcfcff"/>
<rect x="1380.6" y="1377.9" width="39.4" height="36.95" fill="#ffd2d2"/>
<rect x="1419.6" y="1377.9" width="39.3" height="36.95" fill="#ffd2d2"/>
<rect x="1380.6" y="1414.25" width="39.4" height="36.95" fill="#9999ff"/>
<rect x="1419.6" y="1414.25" width="39.3" height="36.95" fill="#8686ff"/>
<rect x="1458.5" y="1414.25" width="34.7" height="36.95" fill="#e3e3ff"/>
<rect x="1628.9" y="1414.25" width="36" height="36.95" fill="#d2d2ff"/>
<rect x="1664.5" y="1414.25" width="39" height="36.95" fill="#d2d2ff"/>
<rect x="1380.6" y="1450.6" width="39.4" height="36.95" fill="#c9c9ff"/>
<rect x="1419.6" y="1450.6" width="39.3" height="36.95" fill="#b0b0ff"/>
<rect x="1458.5" y="1450.6" width="34.7" height="36.95" fill="#f5f5ff"/>
<rect x="1506.3" y="1450.6" width="38" height="36.95" fill="#bfbfff"/>
<rect x="1543.9" y="1450.6" width="39" height="36.95" fill="#a6a6ff"/>
<rect x="1582.5" y="1450.6" width="32.9" height="36.95" fill="#dbdbff"/>
<rect x="1628.9" y="1450.6" width="36" height="36.95" fill="#c6c6ff"/>
<rect x="1664.5" y="1450.6" width="39" height="36.95" fill="#f2f2ff"/>
<rect x="1703.1" y="1450.6" width="39.3" height="36.95" fill="#ffd9d9"/>
<rect x="1380.6" y="1486.95" width="39.4" height="36.95" fill="#4646ff"/>
<rect x="1419.6" y="1486.95" width="39.3" height="36.95" fill="#0000ff"/>
<rect x="1458.5" y="1486.95" width="34.7" height="36.95" fill="#acacff"/>
<rect x="1506.3" y="1486.95" width="38" height="36.95" fill="#d9d9ff"/>
<rect x="1543.9" y="1486.95" width="39" height="36.95" fill="#acacff"/>
<rect x="1582.5" y="1486.95" width="32.9" height="36.95" fill="#c6c6ff"/>
<rect x="1628.9" y="1486.95" width="36" height="36.95" fill="#b0b0ff"/>
<rect x="1664.5" y="1486.95" width="39" height="36.95" fill="#b2b2ff"/>
<rect x="1380.6" y="1523.3" width="39.4" height="36.95" fill="#ccccff"/>
<rect x="1419.6" y="1523.3" width="39.3" height="36.95" fill="#8c8cff"/>
<rect x="1458.5" y="1523.3" width="34.7" height="36.95" fill="#c9c9ff"/>
<rect x="1506.3" y="1523.3" width="38" height="36.95" fill="#f9f9ff"/>
<rect x="1543.9" y="1523.3" width="39" height="36.95" fill="#a6a6ff"/>
<rect x="1582.5" y="1523.3" width="32.9" height="36.95" fill="#a3a3ff"/>
<rect x="1628.9" y="1523.3" width="36" height="36.95" fill="#b2b2ff"/>
<rect x="1664.5" y="1523.3" width="39" height="36.95" fill="#b0b0ff"/>
<rect x="1703.1" y="1523.3" width="39.3" height="36.95" fill="#f9f9ff"/>
</g>
<text transform="translate(1779.2 680.67) scale(1.06 1)" font-size="28" fill="#222">AURKA</text>
<text transform="translate(1779.2 717.02) scale(1.06 1)" font-size="28" fill="#222">AURKB</text>
<text transform="translate(1779.2 753.38) scale(1.06 1)" font-size="28" fill="#222">MKI67</text>
<text transform="translate(1779.2 789.72) scale(1.06 1)" font-size="28" fill="#222">TOP2A</text>
<text transform="translate(1779.2 826.07) scale(1.06 1)" font-size="28" fill="#222">PLK1</text>
<text transform="translate(1779.2 862.42) scale(1.06 1)" font-size="28" fill="#222">MYBL2</text>
<text transform="translate(1779.2 898.77) scale(1.06 1)" font-size="28" fill="#222">PCNA</text>
<text transform="translate(1779.2 935.12) scale(1.06 1)" font-size="28" fill="#222">UBE2C</text>
<text transform="translate(1779.2 971.47) scale(1.06 1)" font-size="28" fill="#222">CCNA2</text>
<text transform="translate(1779.2 1007.83) scale(1.06 1)" font-size="28" fill="#222">CCNB1</text>
<text transform="translate(1779.2 1044.17) scale(1.06 1)" font-size="28" fill="#222">CCNB2</text>
<text transform="translate(1779.2 1080.53) scale(1.06 1)" font-size="28" fill="#222">CCNF</text>
<text transform="translate(1779.2 1116.88) scale(1.06 1)" font-size="28" fill="#222">CCNY</text>
<text transform="translate(1779.2 1153.22) scale(1.06 1)" font-size="28" fill="#222">CDK1</text>
<text transform="translate(1779.2 1189.58) scale(1.06 1)" font-size="28" fill="#222">CDK2</text>
<text transform="translate(1779.2 1225.92) scale(1.06 1)" font-size="28" fill="#222">CDKN1A</text>
<text transform="translate(1779.2 1262.28) scale(1.06 1)" font-size="28" fill="#222">CDKN1B</text>
<text transform="translate(1779.2 1298.62) scale(1.06 1)" font-size="28" fill="#222">CDC20</text>
<text transform="translate(1779.2 1334.97) scale(1.06 1)" font-size="28" fill="#222">CDC25B</text>
<text transform="translate(1779.2 1371.32) scale(1.06 1)" font-size="28" fill="#222">RB1</text>
<text transform="translate(1779.2 1407.67) scale(1.06 1)" font-size="28" fill="#222">RBL2</text>
<text transform="translate(1779.2 1444.03) scale(1.06 1)" font-size="28" fill="#222">PGR</text>
<text transform="translate(1779.2 1480.38) scale(1.06 1)" font-size="28" fill="#222">PDZK1</text>
<text transform="translate(1779.2 1516.72) scale(1.06 1)" font-size="28" fill="#222">TFF1</text>
<text transform="translate(1779.2 1553.08) scale(1.06 1)" font-size="28" fill="#222">GREB1</text>
<rect x="1358.6" y="1413.8" width="14.3" height="144.9" rx="2" fill="#000"/>
<text x="1437.8" y="617.6" font-size="25.5" text-anchor="middle">MCF7</text>
<text x="1562.8" y="600.2" font-size="25.5" text-anchor="middle">MCF7-</text>
<text x="1520" y="637.5" font-size="25.5">LTED</text>
<text x="1579.5" y="631.3" font-size="16.5" textLength="25" lengthAdjust="spacingAndGlyphs">WT</text>
<text x="1683.5" y="600.2" font-size="25.5" text-anchor="middle">MCF7-</text>
<text x="1629.2" y="637.5" font-size="25.5">LTED</text>
<text x="1688.5" y="631.3" font-size="16.5" textLength="50" lengthAdjust="spacingAndGlyphs">Y537C</text>
<text transform="translate(1406 1568.6) rotate(-90)" font-size="27" text-anchor="end" textLength="110.3" lengthAdjust="spacingAndGlyphs">ICI vs Ctrl</text>
<text transform="translate(1440.9 1568.6) rotate(-90)" font-size="27" text-anchor="end" textLength="106" lengthAdjust="spacingAndGlyphs">EL vs Ctrl</text>
<text transform="translate(1478.9 1568.6) rotate(-90)" font-size="27" text-anchor="end" textLength="93.8" lengthAdjust="spacingAndGlyphs">EL vs ICI</text>
<text transform="translate(1532.4 1568.6) rotate(-90)" font-size="27" text-anchor="end" textLength="110.3" lengthAdjust="spacingAndGlyphs">ICI vs Ctrl</text>
<text transform="translate(1567.6 1568.6) rotate(-90)" font-size="27" text-anchor="end" textLength="106" lengthAdjust="spacingAndGlyphs">EL vs Ctrl</text>
<text transform="translate(1603.5 1568.6) rotate(-90)" font-size="27" text-anchor="end" textLength="93.8" lengthAdjust="spacingAndGlyphs">EL vs ICI</text>
<text transform="translate(1657.4 1568.6) rotate(-90)" font-size="27" text-anchor="end" textLength="110.3" lengthAdjust="spacingAndGlyphs">ICI vs Ctrl</text>
<text transform="translate(1687.2 1568.6) rotate(-90)" font-size="27" text-anchor="end" textLength="106" lengthAdjust="spacingAndGlyphs">EL vs Ctrl</text>
<text transform="translate(1715.3 1568.6) rotate(-90)" font-size="27" text-anchor="end" textLength="93.8" lengthAdjust="spacingAndGlyphs">EL vs ICI</text>
<text x="1457.2" y="1749.3" font-size="22.5" font-weight="bold" text-anchor="middle" textLength="117" lengthAdjust="spacingAndGlyphs" fill="#111">Color Key</text>
<rect x="1368.3" y="1761.4" width="176.8" height="35.7" fill="url(#gC)"/>
<path d="M1368.3 1797.1 H1544.4 V1761.4" fill="none" stroke="#111" stroke-width="1.6"/>
<line x1="1379" y1="1797" x2="1379" y2="1808.7" stroke="#111" stroke-width="1.5"/>
<text x="1376.5" y="1838.8" font-size="19" text-anchor="middle" fill="#111">-2</text>
<line x1="1418.3" y1="1797" x2="1418.3" y2="1808.7" stroke="#111" stroke-width="1.5"/>
<text x="1415.8" y="1838.8" font-size="19" text-anchor="middle" fill="#111">-1</text>
<line x1="1457.6" y1="1797" x2="1457.6" y2="1808.7" stroke="#111" stroke-width="1.5"/>
<text x="1457.6" y="1838.8" font-size="19" text-anchor="middle" fill="#111">0</text>
<line x1="1495.1" y1="1797" x2="1495.1" y2="1808.7" stroke="#111" stroke-width="1.5"/>
<text x="1495.1" y="1838.8" font-size="19" text-anchor="middle" fill="#111">1</text>
<line x1="1534.4" y1="1797" x2="1534.4" y2="1808.7" stroke="#111" stroke-width="1.5"/>
<text x="1534.4" y="1838.8" font-size="19" text-anchor="middle" fill="#111">2</text>
<rect x="1590.6" y="1766.9" width="62" height="17.6" fill="#000"/>
<text x="1673.2" y="1783.9" font-size="31" textLength="74" lengthAdjust="spacingAndGlyphs">ERGs</text>
</svg>
</body></html>
